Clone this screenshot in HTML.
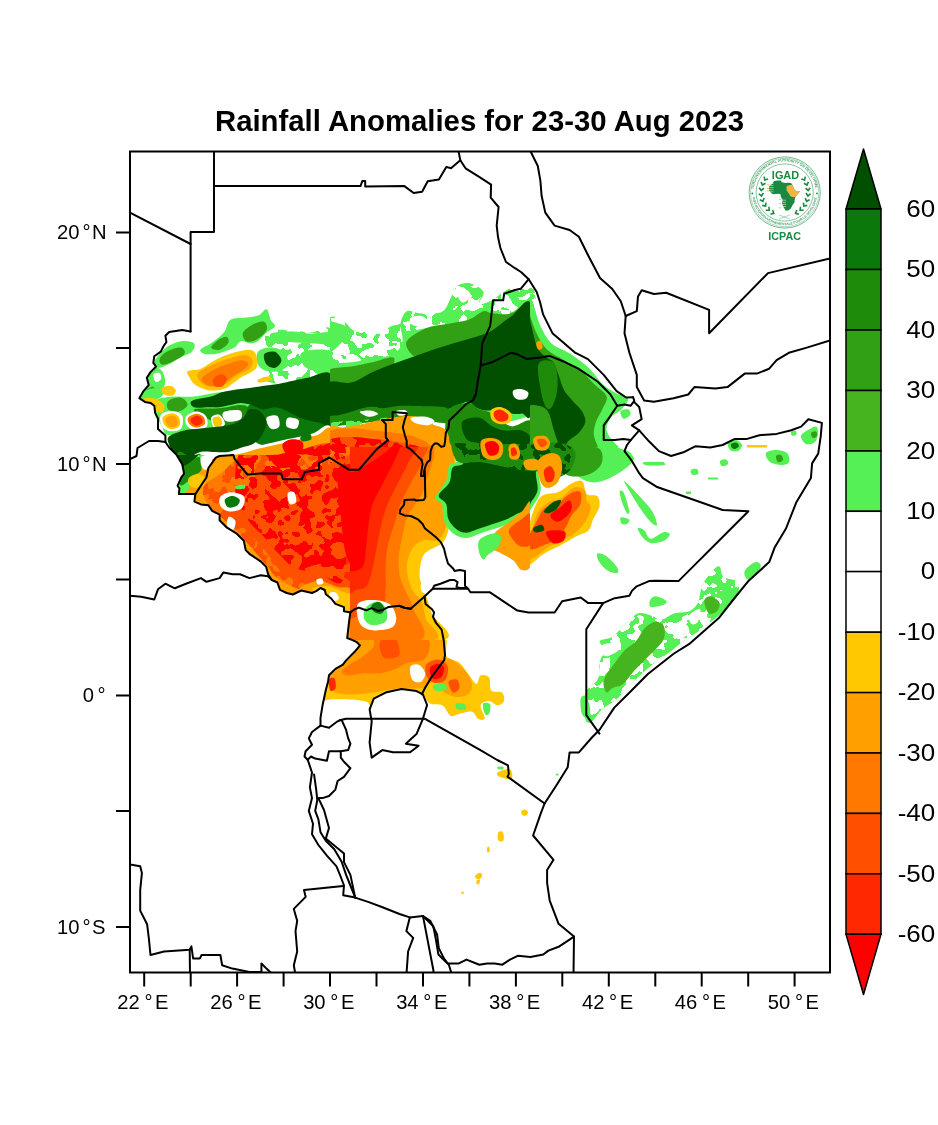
<!DOCTYPE html><html><head><meta charset="utf-8"><style>html,body{margin:0;padding:0;background:#fff;overflow:hidden}svg{display:block}</style></head><body><svg width="938" height="1125" viewBox="0 0 938 1125">
<rect width="938" height="1125" fill="#fff"/>
<text x="479.5" y="131" text-anchor="middle" font-family="Liberation Sans, Arial, sans-serif" font-weight="bold" font-size="29.5" textLength="529" lengthAdjust="spacingAndGlyphs" fill="#000">Rainfall Anomalies for 23-30 Aug 2023</text>
<defs><filter id="mot" filterUnits="userSpaceOnUse" x="130" y="150" width="700" height="825" color-interpolation-filters="sRGB"><feTurbulence type="fractalNoise" baseFrequency="0.09" numOctaves="2" seed="5" result="n"/><feColorMatrix in="n" type="matrix" values="0 0 0 0 0.333  0 0 0 0 0.941  0 0 0 0 0.333  3.2 0 0 0 -1.15" result="c"/><feComponentTransfer in="c" result="t"><feFuncA type="discrete" tableValues="0 1"/></feComponentTransfer><feComposite in="t" in2="SourceAlpha" operator="in"/></filter><filter id="so6" filterUnits="userSpaceOnUse" x="130" y="150" width="700" height="825" color-interpolation-filters="sRGB"><feTurbulence type="fractalNoise" baseFrequency="0.09" numOctaves="2" seed="11" result="n"/><feColorMatrix in="n" type="matrix" values="0 0 0 0 1.000  0 0 0 0 0.000  0 0 0 0 0.000  3.2 0 0 0 -1.15" result="c"/><feComponentTransfer in="c" result="t"><feFuncA type="discrete" tableValues="0 1"/></feComponentTransfer><feComposite in="t" in2="SourceAlpha" operator="in"/></filter><filter id="so4" filterUnits="userSpaceOnUse" x="130" y="150" width="700" height="825" color-interpolation-filters="sRGB"><feTurbulence type="fractalNoise" baseFrequency="0.09" numOctaves="2" seed="13" result="n"/><feColorMatrix in="n" type="matrix" values="0 0 0 0 1.000  0 0 0 0 0.314  0 0 0 0 0.000  3.2 0 0 0 -1.15" result="c"/><feComponentTransfer in="c" result="t"><feFuncA type="discrete" tableValues="0 1"/></feComponentTransfer><feComposite in="t" in2="SourceAlpha" operator="in"/></filter><filter id="sw" filterUnits="userSpaceOnUse" x="130" y="150" width="700" height="825" color-interpolation-filters="sRGB"><feTurbulence type="fractalNoise" baseFrequency="0.09" numOctaves="2" seed="17" result="n"/><feColorMatrix in="n" type="matrix" values="0 0 0 0 1.000  0 0 0 0 1.000  0 0 0 0 1.000  3.2 0 0 0 -1.26" result="c"/><feComponentTransfer in="c" result="t"><feFuncA type="discrete" tableValues="0 1"/></feComponentTransfer><feComposite in="t" in2="SourceAlpha" operator="in"/></filter><filter id="sg6" filterUnits="userSpaceOnUse" x="130" y="150" width="700" height="825" color-interpolation-filters="sRGB"><feTurbulence type="fractalNoise" baseFrequency="0.09" numOctaves="2" seed="19" result="n"/><feColorMatrix in="n" type="matrix" values="0 0 0 0 0.000  0 0 0 0 0.314  0 0 0 0 0.000  3.2 0 0 0 -1.15" result="c"/><feComponentTransfer in="c" result="t"><feFuncA type="discrete" tableValues="0 1"/></feComponentTransfer><feComposite in="t" in2="SourceAlpha" operator="in"/></filter><filter id="sg1" filterUnits="userSpaceOnUse" x="130" y="150" width="700" height="825" color-interpolation-filters="sRGB"><feTurbulence type="fractalNoise" baseFrequency="0.09" numOctaves="2" seed="23" result="n"/><feColorMatrix in="n" type="matrix" values="0 0 0 0 0.333  0 0 0 0 0.941  0 0 0 0 0.333  3.2 0 0 0 -1.15" result="c"/><feComponentTransfer in="c" result="t"><feFuncA type="discrete" tableValues="0 1"/></feComponentTransfer><feComposite in="t" in2="SourceAlpha" operator="in"/></filter><filter id="so1" filterUnits="userSpaceOnUse" x="130" y="150" width="700" height="825" color-interpolation-filters="sRGB"><feTurbulence type="fractalNoise" baseFrequency="0.09" numOctaves="2" seed="29" result="n"/><feColorMatrix in="n" type="matrix" values="0 0 0 0 1.000  0 0 0 0 0.784  0 0 0 0 0.000  3.2 0 0 0 -1.15" result="c"/><feComponentTransfer in="c" result="t"><feFuncA type="discrete" tableValues="0 1"/></feComponentTransfer><feComposite in="t" in2="SourceAlpha" operator="in"/></filter><filter id="so2" filterUnits="userSpaceOnUse" x="130" y="150" width="700" height="825" color-interpolation-filters="sRGB"><feTurbulence type="fractalNoise" baseFrequency="0.09" numOctaves="2" seed="31" result="n"/><feColorMatrix in="n" type="matrix" values="0 0 0 0 1.000  0 0 0 0 0.627  0 0 0 0 0.000  3.2 0 0 0 -1.15" result="c"/><feComponentTransfer in="c" result="t"><feFuncA type="discrete" tableValues="0 1"/></feComponentTransfer><feComposite in="t" in2="SourceAlpha" operator="in"/></filter><clipPath id="mc"><rect x="130" y="151.5" width="700" height="821.0"/></clipPath><clipPath id="dm"><path d="M190.6 331.4 L190.6 232 L214 232 L214 186.1 L360.5 186.1 L362.4 180.9 L365.2 180.9 L365.2 186.4 L404.4 186.1 L413.7 193 L422.1 191.7 L427.7 181.2 L438.9 179.4 L446.3 166.9 L451 168.2 L460.3 160.3 L460.3 160.3 L465.9 168.7 L478 176.2 L491.1 184.6 L490.7 197.6 L498.6 207 L496.7 225.6 L498 237 L500.4 248 L506 262 L515 268.2 L521 272 L528.7 279.2 L536.7 292 L540 302 L543.1 314.4 L552.7 333.6 L563.9 343.1 L575.1 352.7 L587.9 359.1 L603.9 375.1 L616.6 391.1 L626.2 397.5 L633.1 397.2 L634.3 402.1 L639.2 407 L641.7 419.2 L631.9 425.4 L639.2 430.3 L639.2 430.3 L649 441.3 L658.9 451.1 L671.1 456 L683.4 452.3 L695.6 446.2 L710.3 447.4 L722.6 445 L734.9 438.9 L747.1 438.9 L759.4 435.2 L776.6 433.9 L791.3 430.3 L801.1 426.6 L808.4 419.2 L821.9 422.9 L820.7 436.4 L818.2 453.6 L812.1 463.4 L810.9 478.1 L796.2 502.6 L786 528.5 L774.8 547.2 L769.2 562.1 L748.7 580.7 L733 600 L718.8 618.1 L689 644.2 L674 653.5 L647.9 674 L629.3 692.7 L614.3 707.6 L599.4 730 L591.9 737.5 L578.9 752.4 L569.6 752.4 L567.7 767.3 L556 786 L544.6 803.5 L540.7 813.7 L533.1 835.5 L553.5 859.8 L547.1 870 L547.1 882.8 L549.7 900.7 L558.6 923.8 L574 936.6 L574 936.6 L558.6 946.8 L548.4 950.6 L543.3 954.5 L530.5 957 L517.7 955.8 L510 959.6 L502.4 964.7 L494.7 963.4 L487 963.4 L479.3 964.7 L466.5 959.6 L458.9 963.4 L447.3 963.4 L438.4 954.5 L435.8 939.1 L433.3 926.3 L423 916.1 L423 916.1 L409.8 917.4 L399.5 914 L382.5 907.2 L368.8 902.1 L355.2 897.6 L355.2 897.6 L350.4 885.5 L346.1 874.9 L341.8 862.1 L334.3 849.3 L325.8 840.7 L320.5 832.2 L318.4 819.4 L315.2 810.9 L317.3 800.2 L316.2 789.6 L314.1 774.6 L312 772.5 L307.7 759.7 L304.5 756.5 L305.6 751.2 L312 744.8 L308.8 738.4 L312 732 L320.5 725.6 L320.5 717.8 L322.6 705 L325.8 690 L328 681.7 L329 675.3 L335.4 668.9 L342.9 664.6 L346.1 660.4 L354.6 651.8 L360 645.4 L356.8 642.2 L352.5 640.1 L347.2 638 L348.2 629.4 L349.3 619.9 L350.4 612.4 L344 611.3 L344 607.1 L335.4 603.9 L331.2 598.5 L325.8 594.3 L324.8 590 L320.5 588 L316.2 591.1 L312 593 L301.3 590.5 L292.8 594.5 L286.7 593 L280 589.9 L277.4 582.5 L271.8 580 L268.1 574.3 L266.2 566.9 L260.6 561.3 L249.4 553.8 L245.7 550.1 L243.8 540.7 L236.3 533.3 L227 527.7 L219.6 520.2 L219.6 514.6 L212.1 510.9 L208.4 505.3 L200.9 504.4 L194.4 501.6 L195.3 494.1 L178.9 494.1 L179.4 488.5 L177.6 485.7 L181.3 477.3 L184.1 473.6 L182.2 464.3 L176.6 454.9 L169.2 447.5 L165.4 442 L165.4 435.5 L158 429 L158 418.7 L155.2 413.1 L154.3 405.7 L150.5 402.9 L144.9 401.9 L139.3 398.2 L143.1 391.7 L148.7 385.1 L146.8 377.7 L150.5 372.1 L156.1 366.5 L153.3 362.8 L154.3 356.2 L160.8 351.6 L163.6 346 L166.4 342.2 L165.4 335.7 L169.2 332 L182.2 330.1 L190.6 331.4 Z"/></clipPath></defs>
<g clip-path="url(#mc)">
<g clip-path="url(#dm)">
<clipPath id="tA"><path d="M125 240 L330 240 L330 455 L125 455 Z"/></clipPath>
<clipPath id="tB"><path d="M330 240 L540 240 L540 447 L330 447 Z"/></clipPath>
<clipPath id="tC"><path d="M125 455 L330 455 L330 447 L350 447 L350 640 L125 640 Z"/></clipPath>
<clipPath id="tD"><path d="M350 447 L530 447 L530 640 L350 640 Z"/></clipPath>
<clipPath id="tE"><path d="M530 240 L835 240 L835 447 L530 447 Z"/></clipPath>
<clipPath id="tF"><path d="M530 447 L835 447 L835 470 L748.4 511.2 L678.5 581.1 L649 581 L629 596 L603 603 L580 600 L580 665 L535 665 L535 640 L530 640 Z"/></clipPath>
<clipPath id="tH"><path d="M580 600 L603 603 L629 596 L649 581 L678.5 581.1 L748.4 511.2 L835 470 L835 830 L535 830 L535 665 L580 665 Z"/></clipPath>
<clipPath id="tG"><path d="M300 640 L530 640 L530 665 L535 665 L535 835 L300 835 Z"/></clipPath>
<clipPath id="tT"><path d="M440 760 L600 760 L600 975 L440 975 Z"/></clipPath>
<clipPath id="tS"><path d="M630 415 L835 415 L835 500 L630 500 Z"/></clipPath>
<g clip-path="url(#tA)">
<path d="M266.5 332.6 C270.7 327.7 284.6 330.5 292 330.5 C299.5 330.5 304.7 332.6 311.2 332.6 C317.8 332.6 328.1 322.3 331.5 330.5 C334.9 338.7 336.6 373.2 331.5 381.7 C326.3 390.2 309.3 381.3 300.6 381.7 C291.9 382 285.7 384.2 279.3 383.8 C272.9 383.5 265.7 381.7 262.2 379.6 C258.6 377.4 257.2 374.2 257.9 371 C258.6 367.8 265 366.8 266.5 360.4 C267.9 354 262.2 337.6 266.5 332.6 Z" fill="#000" filter="url(#mot)"/>
<path d="M270.7 333.7 C273.6 332.1 285.3 331.6 292 331.6 C298.8 331.6 304.7 333.5 311.2 333.7 C317.8 333.9 328.1 331 331.5 332.6 C334.9 334.2 334.9 341.5 331.5 343.3 C328.1 345.1 317.8 343.5 311.2 343.3 C304.7 343.1 298.1 342.6 292 342.2 C286 341.9 278.5 342.6 275 341.2 C271.4 339.8 267.9 335.3 270.7 333.7 Z" fill="#55f055"/>
<path d="M257.9 351.8 C260.1 349 266.5 347.6 270.7 347.6 C275 347.6 280.7 349 283.5 351.8 C286.4 354.7 288.5 361.4 287.8 364.6 C287.1 367.8 282.8 370 279.3 371 C275.7 372.1 270 372.1 266.5 371 C262.9 370 259.4 367.8 257.9 364.6 C256.5 361.4 255.8 354.7 257.9 351.8 Z" fill="#55f055"/>
<path d="M300.6 354 C302 351.1 308.2 350.1 313.4 349.7 C318.5 349.3 328.5 349 331.5 351.8 C334.5 354.7 333.8 363.6 331.5 366.8 C329.2 370 322.1 371 317.6 371 C313.2 371 307.7 369.6 304.8 366.8 C302 363.9 299.2 356.8 300.6 354 Z" fill="#55f055"/>
<path d="M264.3 354 C265.7 351.8 272.1 350.8 275 351.8 C277.8 352.9 281.4 357.7 281.4 360.4 C281.4 363 277.5 367.1 275 367.8 C272.5 368.5 268.2 366.9 266.5 364.6 C264.7 362.3 262.9 356.1 264.3 354 Z" fill="#005000"/>
<path d="M200.4 349.7 C201.4 347.9 207.1 346.1 211 343.3 C214.9 340.5 220.6 336.6 223.8 332.6 C227 328.7 227 322.3 230.2 319.9 C233.4 317.4 238.4 318.4 243 317.7 C247.6 317 254 317 257.9 315.6 C261.8 314.2 264.3 308.5 266.5 309.2 C268.6 309.9 269.3 317 270.7 319.9 C272.1 322.7 275.7 324.1 275 326.2 C274.3 328.4 269.3 330.2 266.5 332.6 C263.6 335.1 260.8 339.4 257.9 341.2 C255.1 342.9 252.2 343.3 249.4 343.3 C246.6 343.3 243.4 340.5 240.9 341.2 C238.4 341.9 237.3 345.8 234.5 347.6 C231.6 349.3 227 350.8 223.8 351.8 C220.6 352.9 218.5 353.6 215.3 354 C212.1 354.3 207.1 354.7 204.6 354 C202.1 353.3 199.3 351.5 200.4 349.7 Z" fill="#55f055"/>
<path d="M211 347.6 C211 345.8 216.9 340.8 219.6 339 C222.2 337.3 225.6 336.2 227 336.9 C228.4 337.6 229.3 341.2 228.1 343.3 C226.8 345.4 222.4 349 219.6 349.7 C216.7 350.4 211 349.3 211 347.6 Z" fill="#32a014"/>
<path d="M243 332.6 C244.3 329.8 250.1 325.9 253.7 324.1 C257.2 322.3 262.2 320.9 264.3 322 C266.5 323 267.9 327.5 266.5 330.5 C265 333.5 259.2 338.3 255.8 340.1 C252.4 341.9 248.3 342.4 246.2 341.2 C244.1 339.9 241.8 335.5 243 332.6 Z" fill="#32a014"/>
<path d="M154.5 361.4 C155.9 358.1 161.8 350.9 166.2 347.6 C170.7 344.2 176.6 341.9 181.2 341.2 C185.8 340.5 192.2 341.5 194 343.3 C195.7 345.1 194.3 349.3 191.8 351.8 C189.3 354.3 182.9 356.1 179 358.2 C175.1 360.4 171.9 363 168.4 364.6 C164.8 366.2 160 368.4 157.7 367.8 C155.4 367.3 153.1 364.8 154.5 361.4 Z" fill="#55f055"/>
<path d="M159.9 358.2 C160.9 355.9 164.8 352.5 168.4 350.8 C171.9 349 178.5 347 181.2 347.6 C183.8 348.1 185.8 351.7 184.4 354 C182.9 356.3 176.4 359.7 172.6 361.4 C168.9 363.2 164.1 365.2 162 364.6 C159.9 364.1 158.8 360.5 159.9 358.2 Z" fill="#32a014"/>
<path d="M142.8 371 C144.9 368.2 150.3 366.8 153.5 366.8 C156.7 366.8 160 368.5 162 371 C163.9 373.5 165.2 378.5 165.2 381.7 C165.2 384.9 163.6 387.7 162 390.2 C160.4 392.7 159.1 395.2 155.6 396.6 C152 398 143.1 400.9 140.7 398.7 C138.2 396.6 140.3 388.4 140.7 383.8 C141 379.2 140.7 373.9 142.8 371 Z" fill="#55f055"/>
<path d="M153.5 374.2 C154.2 372.8 158.6 372.3 159.9 373.2 C161.1 374 161.6 378.1 160.9 379.6 C160.2 381 156.8 382.6 155.6 381.7 C154.3 380.8 152.7 375.6 153.5 374.2 Z" fill="#ffffff"/>
<path d="M147.1 390.2 C147.8 388.6 152 386.3 153.5 387 C154.9 387.7 156.3 392.9 155.6 394.5 C154.9 396.1 150.6 397.3 149.2 396.6 C147.8 395.9 146.3 391.8 147.1 390.2 Z" fill="#32a014"/>
<path d="M147.1 390.2 C149.2 388.4 154.9 387.7 157.7 388.1 C160.6 388.4 164.1 390.6 164.1 392.3 C164.1 394.1 160.9 397.7 157.7 398.7 C154.5 399.8 146.7 400.2 144.9 398.7 C143.1 397.3 144.9 392 147.1 390.2 Z" fill="#55f055"/>
<path d="M155.6 400.9 C158.4 398 166.2 397.3 172.6 396.6 C179 395.9 186.1 397.3 194 396.6 C201.8 395.9 210.3 393.4 219.6 392.3 C228.8 391.3 243 389.5 249.4 390.2 C255.8 390.9 256.5 393.4 257.9 396.6 C259.4 399.8 259.4 404.4 257.9 409.4 C256.5 414.4 255.8 423.3 249.4 426.5 C243 429.7 228.8 427.9 219.6 428.6 C210.3 429.3 202.5 429.7 194 430.7 C185.4 431.8 173.7 435.7 168.4 435 C163 434.3 164.1 430 162 426.5 C159.9 422.9 156.7 417.9 155.6 413.7 C154.5 409.4 152.7 403.7 155.6 400.9 Z" fill="#55f055"/>
<path d="M194 409.4 C196.1 407.8 211.7 409 219.6 408.3 C227.4 407.6 235.9 405 240.9 405.1 C245.8 405.3 248.7 406.6 249.4 409.4 C250.1 412.2 249.4 419.4 245.1 422.2 C240.9 425 230.2 427.2 223.8 426.5 C217.4 425.7 211.7 420.8 206.8 417.9 C201.8 415.1 191.8 411 194 409.4 Z" fill="#1e8c0a"/>
<path d="M168.4 400.9 C170.5 398.9 178 397 181.2 397.7 C184.4 398.4 187.9 402.8 187.6 405.1 C187.2 407.4 182.2 410.8 179 411.5 C175.8 412.2 170.2 411.2 168.4 409.4 C166.6 407.6 166.2 402.8 168.4 400.9 Z" fill="#32a014"/>
<path d="M223.8 412 C226.5 410.5 237 409.3 239.8 410.5 C242.7 411.6 242.7 417.1 240.9 419 C239.1 420.9 232 421.8 229.1 421.8 C226.3 421.8 224.7 420.6 223.8 419 C222.9 417.4 221.2 413.4 223.8 412 Z" fill="#ffffff"/>
<path d="M160.9 414.7 C162.7 412.2 169.1 410.9 172.6 411.1 C176.2 411.3 180.8 412.9 182.2 415.8 C183.7 418.7 183.1 426 181.2 428.6 C179.2 431.2 173.7 431.5 170.5 431.2 C167.3 430.8 163.6 429.2 162 426.5 C160.4 423.7 159.1 417.3 160.9 414.7 Z" fill="#ffffff"/>
<path d="M185.9 416.9 C187.3 414.4 192.8 411.7 196.1 411.5 C199.4 411.4 203.9 413.3 205.7 415.8 C207.5 418.3 208.4 424.2 206.8 426.5 C205.2 428.8 199.3 429.7 196.1 429.7 C192.9 429.7 189.3 428.6 187.6 426.5 C185.9 424.3 184.4 419.4 185.9 416.9 Z" fill="#ffffff"/>
<path d="M211 417.9 C211.7 415.6 217.2 413.7 219.6 414.7 C221.9 415.8 225.6 422 224.9 424.3 C224.2 426.6 217.6 429.7 215.3 428.6 C213 427.5 210.3 420.2 211 417.9 Z" fill="#ffffff"/>
<path d="M163 416.9 C164.5 415 169.9 413.1 172.6 413.2 C175.4 413.4 178.4 415.7 179.5 417.9 C180.5 420.1 180.5 424.6 179 426.5 C177.5 428.3 173 429.4 170.5 429 C168 428.7 165.4 426.4 164.1 424.3 C162.9 422.3 161.6 418.7 163 416.9 Z" fill="#ffc800"/>
<path d="M166.2 417.9 C167.3 416.7 170.8 415.6 172.6 415.8 C174.5 416 176.6 417.4 177.3 419 C178 420.6 178 424.1 176.9 425.4 C175.8 426.7 172.3 427.2 170.5 426.9 C168.7 426.5 167 424.8 166.2 423.3 C165.5 421.8 165.2 419.2 166.2 417.9 Z" fill="#ffa000"/>
<path d="M188 417.9 C189.1 416.2 193.5 413.8 196.1 413.7 C198.7 413.5 202.1 415.1 203.6 416.9 C205 418.6 205.9 422.6 204.6 424.3 C203.4 426.1 198.6 427.5 196.1 427.5 C193.6 427.5 191.1 425.9 189.7 424.3 C188.4 422.7 186.9 419.7 188 417.9 Z" fill="#ff7800"/>
<path d="M190.8 419 C191.5 417.8 194.7 416 196.5 415.8 C198.3 415.6 200.5 416.7 201.4 417.9 C202.4 419.2 203 422 202.1 423.3 C201.2 424.5 197.8 425.4 196.1 425.4 C194.4 425.4 192.7 424.3 191.8 423.3 C190.9 422.2 190 420.2 190.8 419 Z" fill="#ff2800"/>
<path d="M212.7 418.4 C213.4 416.7 218 415.9 219.6 416.9 C221.1 417.9 222.8 422.7 222.1 424.3 C221.4 426 216.9 427.9 215.3 426.9 C213.7 425.9 212 420 212.7 418.4 Z" fill="#ffc800"/>
<path d="M249.4 405.1 C254.4 400.9 270.7 403.7 279.3 405.1 C287.8 406.6 291.9 411.5 300.6 413.7 C309.3 415.8 326.3 412.6 331.5 417.9 C336.6 423.3 336.6 441.4 331.5 445.7 C326.3 449.9 309.3 443.5 300.6 443.5 C291.9 443.5 286.4 445.7 279.3 445.7 C272.1 445.7 262.9 446 257.9 443.5 C253 441 250.8 437.1 249.4 430.7 C248 424.3 244.4 409.4 249.4 405.1 Z" fill="#0a780a"/>
<path d="M266.5 417.9 C267.5 415.8 275 414.4 277.1 415.8 C279.3 417.2 280.3 424.3 279.3 426.5 C278.2 428.6 272.9 430 270.7 428.6 C268.6 427.2 265.4 420.1 266.5 417.9 Z" fill="#ffffff"/>
<path d="M287.8 417.9 C289.7 416.9 297 418.3 298.4 420.1 C299.9 421.8 298.3 427.5 296.3 428.6 C294.4 429.7 288.1 428.2 286.7 426.5 C285.3 424.7 285.8 419 287.8 417.9 Z" fill="#ffffff"/>
<path d="M191.8 400.9 C194.7 399.1 206 398 211 396.6 C216 395.2 218.1 393.4 221.7 392.3 C225.2 391.3 227.7 390.9 232.3 390.2 C237 389.5 244.4 388.8 249.4 388.1 C254.4 387.4 257.2 386.7 262.2 385.9 C267.2 385.2 273.2 384.9 279.3 383.8 C285.3 382.8 293.5 380.6 298.4 379.6 C303.4 378.5 303.6 378.1 309.1 377.4 C314.6 376.7 327.8 367.8 331.5 375.3 C335.2 382.8 333.8 414.4 331.5 422.2 C329.2 430 322.8 422.9 317.6 422.2 C312.5 421.5 304.8 419.4 300.6 417.9 C296.3 416.5 294.9 415.1 292 413.7 C289.2 412.2 286.4 410.5 283.5 409.4 C280.7 408.3 278.5 407.3 275 407.3 C271.4 407.3 266.1 409.8 262.2 409.4 C258.3 409 255.1 406.2 251.5 405.1 C248 404.1 244.4 403 240.9 403 C237.3 403 233.8 404.4 230.2 405.1 C226.7 405.8 223.1 406.9 219.6 407.3 C216 407.6 213.2 407.3 208.9 407.3 C204.6 407.3 196.8 408.3 194 407.3 C191.1 406.2 189 402.7 191.8 400.9 Z" fill="#005000"/>
<path d="M168.4 437.1 C170.5 434.3 178 432.1 183.3 430.7 C188.6 429.3 194.3 429.3 200.4 428.6 C206.4 427.9 214.2 427.2 219.6 426.5 C224.9 425.7 228.4 425.7 232.3 424.3 C236.3 422.9 240.2 420.4 243 417.9 C245.8 415.4 246.6 410.5 249.4 409.4 C252.2 408.3 257.2 409.4 260.1 411.5 C262.9 413.7 266.1 418.3 266.5 422.2 C266.8 426.1 264.3 431.4 262.2 435 C260.1 438.5 257.2 441.4 253.7 443.5 C250.1 445.7 245.1 446.4 240.9 447.8 C236.6 449.2 232.3 451.3 228.1 452 C223.8 452.8 219.9 452 215.3 452 C210.7 452 204.6 451 200.4 452 C196.1 453.1 192.5 456 189.7 458.4 C186.9 460.9 185.4 467 183.3 467 C181.2 467 179 461.6 176.9 458.4 C174.8 455.2 171.9 451.3 170.5 447.8 C169.1 444.2 166.2 440 168.4 437.1 Z" fill="#005000"/>
<path d="M179 452 C181.9 450.6 186.1 456 189.7 456.3 C193.3 456.7 198.6 452.4 200.4 454.2 C202.1 456 202.1 463.8 200.4 467 C198.6 470.2 192.5 469.3 189.7 473.4 C186.9 477.5 186.1 488.5 183.3 491.5 C180.5 494.5 174.4 495.9 172.6 491.5 C170.9 487.1 171.6 471.4 172.6 464.8 C173.7 458.3 176.2 453.5 179 452 Z" fill="#1e8c0a"/>
<path d="M187.6 371 C189.3 369.6 196.5 370.3 200.4 368.9 C204.3 367.5 207.1 364.6 211 362.5 C214.9 360.4 219.6 357.9 223.8 356.1 C228.1 354.3 232.3 352.9 236.6 351.8 C240.9 350.8 246.2 349.3 249.4 349.7 C252.6 350.1 254.6 351.1 255.8 354 C257 356.8 257.9 363.6 256.9 366.8 C255.8 370 252.1 371.4 249.4 373.2 C246.7 374.9 243.7 375.6 240.9 377.4 C238 379.2 235.2 381.9 232.3 383.8 C229.5 385.8 227.4 388 223.8 389.1 C220.3 390.3 214.6 390.7 211 390.6 C207.5 390.5 205.3 389.6 202.5 388.5 C199.7 387.4 196.1 385.7 194 383.8 C191.8 382 190.8 379.6 189.7 377.4 C188.6 375.3 185.8 372.4 187.6 371 Z" fill="#ffc800"/>
<path d="M198.2 373.2 C200.4 370.3 207.8 367.1 213.2 364.6 C218.5 362.1 224.9 359.8 230.2 358.2 C235.5 356.6 241.4 354.7 245.1 355 C248.9 355.4 251.9 358.1 252.6 360.4 C253.3 362.7 252.1 366.4 249.4 368.9 C246.7 371.4 240.5 372.8 236.6 375.3 C232.7 377.8 230.2 381.9 225.9 383.8 C221.7 385.8 215.3 387.4 211 387 C206.8 386.7 202.5 384 200.4 381.7 C198.2 379.4 196.1 376 198.2 373.2 Z" fill="#ffa000"/>
<path d="M202.5 377.4 C204.4 375.1 210.3 371.4 215.3 368.9 C220.3 366.4 227.7 363.9 232.3 362.5 C237 361.1 240.3 360 243 360.4 C245.7 360.7 248.3 363 248.3 364.6 C248.3 366.2 245.7 368 243 370 C240.3 371.9 235.9 374 232.3 376.4 C228.8 378.7 225.2 382.2 221.7 383.8 C218.1 385.4 214 386.1 211 385.9 C208 385.8 205 384.2 203.6 382.8 C202.1 381.3 200.5 379.7 202.5 377.4 Z" fill="#ff7800"/>
<path d="M213.2 379.6 C214 377.5 218.3 374.4 220.6 374.2 C222.9 374 226.7 376.5 227 378.5 C227.4 380.4 224.7 384.6 222.8 385.9 C220.8 387.3 216.9 387.4 215.3 386.4 C213.7 385.3 212.3 381.6 213.2 379.6 Z" fill="#ff5000"/>
<path d="M162 388.1 C163 386.7 168.2 385.6 170.5 385.9 C172.8 386.3 175.5 388.6 175.8 390.2 C176.2 391.8 174.6 394.8 172.6 395.5 C170.7 396.3 165.9 395.7 164.1 394.5 C162.3 393.2 160.9 389.5 162 388.1 Z" fill="#ffc800"/>
<path d="M142.8 398.7 C144.6 398 152 397.7 155.6 398.7 C159.1 399.8 163 402.8 164.1 405.1 C165.2 407.4 163.8 411.9 162 412.6 C160.2 413.3 156.3 411 153.5 409.4 C150.6 407.8 146.7 404.8 144.9 403 C143.1 401.2 141 399.5 142.8 398.7 Z" fill="#ffc800"/>
<path d="M257.9 379.6 C259.4 378.5 266.3 376.4 268.6 376.4 C270.9 376.4 273.2 378.5 271.8 379.6 C270.4 380.6 262.4 382.8 260.1 382.8 C257.8 382.8 256.5 380.6 257.9 379.6 Z" fill="#ffc800"/>
<path d="M191.8 491.5 C169.4 487.9 193.4 475.7 197.2 470.2 C200.9 464.7 208.7 461.1 214.2 458.4 C219.7 455.8 225.2 455.5 230.2 454.2 C235.2 452.8 239.5 451.7 244.1 450.3 C248.7 449 252.4 447.6 257.9 446.1 C263.4 444.6 270.4 442.9 277.1 441.4 C283.9 439.9 292.4 438.5 298.4 437.1 C304.5 435.8 307.9 434.6 313.4 433.3 C318.9 431.9 328.5 419.3 331.5 429 C334.5 438.7 354.8 481.1 331.5 491.5 C308.2 501.9 214.2 495 191.8 491.5 Z" fill="#ffffff"/>
<path d="M187.6 491.5 C164.6 488.5 190.1 478.5 194 473.4 C197.9 468.2 205.3 463.4 211 460.6 C216.7 457.7 222.8 457.6 228.1 456.3 C233.4 455.1 238 454.4 243 453.1 C248 451.9 251.9 450.4 257.9 448.8 C264 447.3 272.1 445.5 279.3 443.9 C286.4 442.3 294.2 440.7 300.6 439.3 C307 437.8 312.5 436.3 317.6 435 C322.8 433.6 329.2 421.7 331.5 431.2 C333.8 440.6 355.5 481.4 331.5 491.5 C307.5 501.5 210.5 494.5 187.6 491.5 Z" fill="#ffa000"/>
<path d="M206.8 491.5 C187.4 488.5 211.7 477.5 215.3 473.4 C218.8 469.3 223.1 469.1 228.1 467 C233.1 464.8 239.5 462.4 245.1 460.6 C250.8 458.8 256.5 457.4 262.2 456.3 C267.9 455.2 272.9 455.2 279.3 454.2 C285.7 453.1 291.9 451.3 300.6 449.9 C309.3 448.5 326.3 438.7 331.5 445.7 C336.6 452.6 352.3 483.9 331.5 491.5 C310.7 499.1 226.1 494.5 206.8 491.5 Z" fill="#ff5000"/>
<path d="M206.8 491.5 C187.4 488.5 211.7 477.5 215.3 473.4 C218.8 469.3 223.1 469.1 228.1 467 C233.1 464.8 239.5 462.4 245.1 460.6 C250.8 458.8 256.5 457.4 262.2 456.3 C267.9 455.2 272.9 455.2 279.3 454.2 C285.7 453.1 291.9 451.3 300.6 449.9 C309.3 448.5 326.3 438.7 331.5 445.7 C336.6 452.6 352.3 483.9 331.5 491.5 C310.7 499.1 226.1 494.5 206.8 491.5 Z" fill="#000" filter="url(#so6)"/>
<path d="M282.5 444.6 C283.2 441.9 288.7 439.6 292 439.3 C295.4 438.9 301.3 440.1 302.7 442.5 C304.1 444.8 303.1 451 300.6 453.1 C298.1 455.2 290.8 456.7 287.8 455.2 C284.8 453.8 281.7 447.2 282.5 444.6 Z" fill="#ff0000"/>
<path d="M311.2 454.2 C311.9 449 318.5 448.1 321.9 446.7 C325.3 445.3 329.9 439.8 331.5 445.7 C333.1 451.5 333.8 476.6 331.5 481.9 C329.2 487.2 321 482.3 317.6 477.6 C314.3 473 310.5 459.3 311.2 454.2 Z" fill="#ff0000"/>
<path d="M257.9 473.4 C259 470.5 270.7 464.1 275 464.8 C279.3 465.6 284.6 474.8 283.5 477.6 C282.5 480.5 272.9 482.6 268.6 481.9 C264.3 481.2 256.9 476.2 257.9 473.4 Z" fill="#ff0000"/>
<path d="M300.6 437.1 C301.6 435.7 307.3 432.5 309.1 432.9 C310.9 433.2 312.3 437.8 311.2 439.3 C310.2 440.7 304.5 441.7 302.7 441.4 C300.9 441 299.5 438.5 300.6 437.1 Z" fill="#0a780a"/>
</g>
<g clip-path="url(#tB)">
<path d="M327.9 321.8 C330.4 311.4 338.5 319.3 342.8 320.8 C347.1 322.2 349.5 328.9 353.5 330.4 C357.4 331.8 362 328.8 366.2 329.3 C370.5 329.8 374.8 334.1 379 333.6 C383.3 333 387.6 327.7 391.8 326.1 C396.1 324.5 401.4 323.3 404.6 324 C407.8 324.7 411 326.1 411 330.4 C411 334.6 405.3 344.6 404.6 349.6 C403.9 354.5 408.5 355.9 406.8 360.2 C405 364.5 401.4 371.9 394 375.1 C386.5 378.3 373 378 362 379.4 C351 380.8 333.6 393.3 327.9 383.7 C322.2 374.1 325.4 332.3 327.9 321.8 Z" fill="#000" filter="url(#mot)"/>
<path d="M327.9 324 C330 319.3 337.1 322.9 340.7 324 C344.2 325 348.8 327.5 349.2 330.4 C349.5 333.2 345.3 337.8 342.8 341 C340.3 344.2 336.8 347.8 334.3 349.6 C331.8 351.3 328.9 355.9 327.9 351.7 C326.8 347.4 325.7 328.6 327.9 324 Z" fill="#55f055"/>
<path d="M477.1 306.9 C479.3 304.4 488.1 302.6 492 300.5 C496 298.4 497.4 296.2 500.6 294.1 C503.8 292 507.7 289.5 511.2 287.7 C514.8 285.9 518.5 284.9 521.9 283.5 C525.3 282 529.9 273.9 531.5 279.2 C533.1 284.5 540.2 309.4 531.5 315.4 C522.8 321.5 488.3 316.9 479.3 315.4 C470.2 314 475 309.4 477.1 306.9 Z" fill="#000" filter="url(#mot)"/>
<path d="M400.4 324 C401.1 319 403.6 312.9 406.8 311.2 C410 309.4 414.6 312.9 419.6 313.3 C424.5 313.7 432.3 314 436.6 313.3 C440.9 312.6 442.7 311.9 445.1 309 C447.6 306.2 449.4 300.2 451.5 296.2 C453.7 292.3 454.7 287.7 457.9 285.6 C461.1 283.5 466.5 282.4 470.7 283.5 C475 284.5 482.1 288.4 483.5 292 C484.9 295.5 477.8 301.8 479.3 304.8 C480.7 307.8 486.7 308.9 492 310.1 C497.4 311.4 504.7 312.6 511.2 312.2 C517.8 311.9 528.1 291.1 531.5 308 C534.9 324.9 553.3 395.9 531.5 413.5 C509.6 431.1 424 420.6 400.4 413.5 C376.7 406.4 394.3 378.7 389.7 370.9 C385.1 363.1 378.3 365.2 372.6 366.6 C367 368 363 376.6 355.6 379.4 C348.1 382.2 332.5 386 327.9 383.7 C323.2 381.4 324 369.1 327.9 365.5 C331.8 362 343.9 363.5 351.3 362.3 C358.8 361.2 365.5 359.9 372.6 358.5 C379.8 357.1 389 356.7 394 353.8 C398.9 350.9 401.4 346 402.5 341 C403.6 336 399.7 328.9 400.4 324 Z" fill="#55f055"/>
<path d="M400.4 309 C403.6 306.2 413.5 310.8 419.6 311.2 C425.6 311.5 432.3 311.9 436.6 311.2 C440.9 310.5 442.7 309.8 445.1 306.9 C447.6 304.1 449.4 298 451.5 294.1 C453.7 290.2 454.7 285.6 457.9 283.5 C461.1 281.3 466.5 280.3 470.7 281.3 C475 282.4 482.1 286.3 483.5 289.9 C484.9 293.4 477.8 299.6 479.3 302.6 C480.7 305.7 486.7 306.7 492 308 C497.4 309.2 504.7 310.5 511.2 310.1 C517.8 309.8 528.1 305.3 531.5 305.8 C534.9 306.4 534.9 311.5 531.5 313.3 C528.1 315.1 519.9 315.4 511.2 316.5 C502.5 317.6 489.6 318.5 479.3 319.7 C468.9 320.9 458.3 322.5 449.4 324 C440.5 325.4 432.3 327.2 425.9 328.2 C419.6 329.3 415.3 330.4 411 330.4 C406.8 330.4 402.1 331.8 400.4 328.2 C398.6 324.7 397.2 311.9 400.4 309 Z" fill="#000" filter="url(#sw)"/>
<path d="M411 317.6 C412.8 316.2 418.8 315.2 421.7 315.9 C424.5 316.6 428.4 320.1 428.1 321.8 C427.7 323.5 422.4 325.7 419.6 326.1 C416.7 326.5 412.4 325.4 411 324 C409.6 322.5 409.2 318.9 411 317.6 Z" fill="#ffffff"/>
<path d="M457.9 294.1 C458.6 292 464.3 289.5 466.5 289.9 C468.6 290.2 471.4 294.1 470.7 296.2 C470 298.4 464.3 303 462.2 302.6 C460.1 302.3 457.2 296.2 457.9 294.1 Z" fill="#ffffff"/>
<path d="M406.8 341 C409.2 336.8 419.2 331.1 425.9 328.2 C432.7 325.4 440.2 325.4 447.3 324 C454.4 322.5 462.6 321.8 468.6 319.7 C474.6 317.6 479.6 312.2 483.5 311.2 C487.4 310.1 487.4 312.9 492 313.3 C496.7 313.7 504.7 315.4 511.2 313.3 C517.8 311.2 528.1 298 531.5 300.5 C534.9 303 536.6 322.9 531.5 328.2 C526.3 333.6 509.3 330.7 500.6 332.5 C491.9 334.3 486.4 337.1 479.3 338.9 C472.1 340.7 465 341.4 457.9 343.2 C450.8 344.9 443 347.4 436.6 349.6 C430.2 351.7 423.8 355.2 419.6 355.9 C415.3 356.7 413.2 356.3 411 353.8 C408.9 351.3 404.3 345.3 406.8 341 Z" fill="#32a014"/>
<path d="M327.9 370.9 C331.8 366.6 343.9 368 351.3 366.6 C358.8 365.2 365.5 363.8 372.6 362.3 C379.8 360.9 391.8 355.2 394 358.1 C396.1 360.9 390.8 374.4 385.4 379.4 C380.1 384.4 371.6 385.8 362 387.9 C352.4 390.1 333.6 395 327.9 392.2 C322.2 389.4 324 375.1 327.9 370.9 Z" fill="#32a014"/>
<path d="M327.9 383.7 C331.8 377.6 343.9 384.6 351.3 382.6 C358.8 380.6 365.5 375.1 372.6 371.9 C379.8 368.7 386.9 366.1 394 363.4 C401.1 360.7 408.2 358.4 415.3 355.9 C422.4 353.5 429.5 350.8 436.6 348.5 C443.7 346.2 450.8 344.2 457.9 342.1 C465 340 473.6 337.6 479.3 335.7 C484.9 333.7 486.7 333.6 492 330.4 C497.4 327.2 504.7 320.4 511.2 316.5 C517.8 312.6 528.1 291.4 531.5 306.9 C534.9 322.4 533.1 391.5 531.5 409.3 C529.9 427 525.3 412.8 521.9 413.5 C518.5 414.2 514.8 414.2 511.2 413.5 C507.7 412.8 503.8 409.8 500.6 409.3 C497.4 408.7 494.9 410.1 492 410.3 C489.2 410.5 486.4 410.9 483.5 410.3 C480.7 409.8 477.5 408.5 475 407.1 C472.5 405.7 471.4 402.1 468.6 401.8 C465.7 401.4 461.5 403.7 457.9 405 C454.4 406.2 450.8 408.5 447.3 409.3 C443.7 410 440.5 409.6 436.6 409.3 C432.7 408.9 428.1 407.5 423.8 407.1 C419.6 406.8 415.3 407.1 411 407.1 C406.8 407.1 402.9 406.8 398.2 407.1 C393.6 407.5 387.6 409.3 383.3 409.3 C379 409.3 376.2 407.1 372.6 407.1 C369.1 407.1 365.5 408.2 362 409.3 C358.4 410.3 355.2 412.3 351.3 413.5 C347.4 414.8 342.4 415.8 338.5 416.7 C334.6 417.6 329.6 424.4 327.9 418.8 C326.1 413.3 324 389.7 327.9 383.7 Z" fill="#005000"/>
<path d="M449.4 409.3 C453.3 403.9 463.6 402.9 468.6 402.9 C473.6 402.9 475.3 407.5 479.3 409.3 C483.2 411 486.7 410.7 492 413.5 C497.4 416.4 504.7 424.9 511.2 426.3 C517.8 427.7 528.1 416.2 531.5 422 C534.9 427.9 545.2 454.9 531.5 461.5 C517.8 468.1 463.8 465.9 449.4 461.5 C435 457.1 445.1 443.5 445.1 434.8 C445.1 426.1 445.5 414.6 449.4 409.3 Z" fill="#1e8c0a"/>
<path d="M462.2 422 C464.3 418.5 474.3 417.1 479.3 417.8 C484.2 418.5 487.8 424.2 492 426.3 C496.3 428.4 499.9 429.9 504.8 430.6 C509.8 431.3 517.5 429.2 521.9 430.6 C526.3 432 531.5 436.3 531.5 439.1 C531.5 441.9 527.1 446.2 521.9 447.6 C516.7 449.1 507.7 448.3 500.6 447.6 C493.5 446.9 484.9 444.8 479.3 443.4 C473.6 441.9 469.3 442.7 466.5 439.1 C463.6 435.6 460.1 425.6 462.2 422 Z" fill="#005000"/>
<path d="M513.4 390.5 C514.7 389.3 519.4 388.9 521.9 389.2 C524.4 389.6 527.6 391.1 528.3 392.6 C529 394.2 527.8 397.4 526.2 398.6 C524.6 399.8 520.8 400 518.7 399.7 C516.6 399.3 514.7 398 513.8 396.5 C512.9 394.9 512 391.7 513.4 390.5 Z" fill="#ffffff"/>
<path d="M491 410.3 C492.4 408.2 497.2 406.6 500.6 407.1 C504 407.7 509.6 411 511.2 413.5 C512.8 416 511.9 420.3 510.2 422 C508.4 423.8 503.6 424.5 500.6 424.2 C497.6 423.8 493.6 422.2 492 419.9 C490.4 417.6 489.6 412.5 491 410.3 Z" fill="#ffc800"/>
<path d="M494.2 411.8 C495.2 410.5 498.3 409.2 500.6 409.7 C502.9 410.1 507 412.8 508 414.6 C509.1 416.4 508.4 419.2 507 420.3 C505.6 421.5 501.6 422 499.5 421.6 C497.4 421.2 495.5 419.4 494.6 417.8 C493.7 416.1 493.2 413.2 494.2 411.8 Z" fill="#ff2800"/>
<path d="M327.9 416.7 C329.6 414.9 334.6 416 338.5 415.2 C342.4 414.4 347.4 413 351.3 411.8 C355.2 410.6 358.4 409 362 408.2 C365.5 407.3 369.1 406.7 372.6 406.7 C376.2 406.7 379 408.3 383.3 408.2 C387.6 408.1 392.9 406.4 398.2 406.1 C403.6 405.7 407.1 405.7 415.3 406.1 C423.5 406.4 441.6 405.5 447.3 408.2 C453 410.9 451.9 419.7 449.4 422 C446.9 424.4 441.6 422.4 432.3 422 C423.1 421.7 405.7 419.7 394 419.9 C382.2 420.1 373 422 362 423.1 C351 424.2 333.6 427.4 327.9 426.3 C322.2 425.2 326.1 418.6 327.9 416.7 Z" fill="#1e8c0a"/>
<path d="M327.9 423.1 C333.6 421.3 351 420.9 362 419.9 C373 419 382.2 417.4 394 417.4 C405.7 417.3 423.1 418.4 432.3 419.5 C441.6 420.6 449.4 423.2 449.4 424.2 C449.4 425.1 441.6 425.4 432.3 425.2 C423.1 425.1 405.7 422.9 394 423.1 C382.2 423.3 373 425.1 362 426.3 C351 427.6 333.6 431.1 327.9 430.6 C322.2 430 322.2 424.9 327.9 423.1 Z" fill="#000" filter="url(#mot)"/>
<path d="M359.9 411.8 C360.2 410.8 367.5 410.2 370.5 410.5 C373.5 410.9 378.3 412.9 378 413.9 C377.6 415 371.4 417.1 368.4 416.7 C365.4 416.4 359.5 412.8 359.9 411.8 Z" fill="#ffffff"/>
<path d="M396.1 411 C397 410 402.7 409.6 404.6 410.1 C406.6 410.6 408.7 413 407.8 413.9 C406.9 414.9 401.3 416.1 399.3 415.7 C397.3 415.2 395.2 411.9 396.1 411 Z" fill="#ffffff"/>
<path d="M327.9 428.4 C330.4 422.8 337.1 428.1 342.8 427.4 C348.5 426.7 355.2 425.5 362 424.2 C368.7 422.9 376.2 420.8 383.3 419.5 C390.4 418.1 398.6 416.4 404.6 416.1 C410.7 415.7 414.9 416 419.6 417.4 C424.2 418.7 428.1 422.2 432.3 424.2 C436.6 426.2 442.3 426.7 445.1 429.5 C448 432.4 449.2 435.9 449.4 441.2 C449.6 446.6 466.5 458.1 446.2 461.5 C425.9 464.9 347.6 467 327.9 461.5 C308.1 456 325.4 434.1 327.9 428.4 Z" fill="#ffa000"/>
<path d="M327.9 432.7 C331.8 427.2 343.9 428.8 351.3 428.4 C358.8 428.1 365.5 429.9 372.6 430.6 C379.8 431.3 386.9 431.6 394 432.7 C401.1 433.8 409.2 434.8 415.3 437 C421.3 439.1 426.7 441.4 430.2 445.5 C433.8 449.6 453.7 458.8 436.6 461.5 C419.6 464.2 346 466.3 327.9 461.5 C309.7 456.7 324 438.2 327.9 432.7 Z" fill="#ff7800"/>
<path d="M327.9 441.2 C331.8 437.1 343.9 437.3 351.3 437 C358.8 436.6 365.5 438.4 372.6 439.1 C379.8 439.8 386.9 440.2 394 441.2 C401.1 442.3 409.2 443.7 415.3 445.5 C421.3 447.3 426.7 449.2 430.2 451.9 C433.8 454.6 453.7 459.9 436.6 461.5 C419.6 463.1 346 464.9 327.9 461.5 C309.7 458.1 324 445.3 327.9 441.2 Z" fill="#ff5000"/>
<path d="M327.9 449.8 C331.8 447.5 343.9 447.3 351.3 447.6 C358.8 448 367.3 449.6 372.6 451.9 C378 454.2 390.8 459.9 383.3 461.5 C375.8 463.1 337.1 463.4 327.9 461.5 C318.6 459.5 324 452.1 327.9 449.8 Z" fill="#ff0000"/>
<path d="M327.9 441.2 C331.8 437.1 343.9 437.3 351.3 437 C358.8 436.6 365.5 438.4 372.6 439.1 C379.8 439.8 386.9 440.2 394 441.2 C401.1 442.3 409.2 443.7 415.3 445.5 C421.3 447.3 426.7 449.2 430.2 451.9 C433.8 454.6 453.7 459.9 436.6 461.5 C419.6 463.1 346 464.9 327.9 461.5 C309.7 458.1 324 445.3 327.9 441.2 Z" fill="#000" filter="url(#so6)"/>
<path d="M411 417.8 C412.8 416.7 422 416.2 425.9 416.7 C429.9 417.2 434.1 419.6 434.5 421 C434.8 422.4 431.3 424.9 428.1 425.2 C424.9 425.6 418.1 424.4 415.3 423.1 C412.4 421.9 409.2 418.8 411 417.8 Z" fill="#ffffff"/>
</g>
<g clip-path="url(#tC)">
<path d="M188.5 476.2 C193.9 470.6 203.5 464.5 212 459.2 C220.5 453.9 234.4 448.2 239.7 444.3 C245 440.4 220.6 437.2 244 435.7 C267.3 434.3 356.5 401.7 380 435.7 C403.5 469.8 418 606 384.7 640 C351.4 674 214.1 664.4 180 640 C145.9 615.6 178.6 520.6 180 493.3 C181.4 466 183.2 481.9 188.5 476.2 Z" fill="#ffa000"/>
<path d="M203.5 486.9 C205.9 481.6 215.9 477.7 222.6 472 C229.4 466.3 236.9 457.1 244 452.8 C251.1 448.5 254.6 447.8 265.3 446.4 C275.9 445 293.7 445 307.9 444.3 C322.1 443.6 338.6 442.8 350.6 442.1 C362.6 441.4 375.1 411.2 380 440 C384.9 468.8 384.9 586.8 380 614.8 C375.1 642.9 359 612 350.6 608.4 C342.1 604.9 337.8 596.7 329.3 593.5 C320.7 590.3 307.9 591.7 299.4 589.3 C290.9 586.8 283.8 582.9 278.1 578.6 C272.4 574.3 269.9 569 265.3 563.7 C260.7 558.3 255.3 552.3 250.4 546.6 C245.4 540.9 240.4 534.5 235.4 529.6 C230.5 524.6 225.1 521 220.5 516.8 C215.9 512.5 210.6 508.9 207.7 504 C204.9 499 201 492.2 203.5 486.9 Z" fill="#ff7800"/>
<path d="M226.9 510.4 C228.3 505 237.6 494.7 244 489 C250.4 483.4 257.5 479.4 265.3 476.2 C273.1 473 282 471.3 290.9 469.9 C299.8 468.4 310.1 469.5 318.6 467.7 C327.1 465.9 331.8 462.4 342 459.2 C352.3 456 373.7 424 380 448.5 C386.3 473 384.2 580.7 380 606.3 C375.8 631.9 362.6 605.2 354.8 602 C347.1 598.8 341.3 590 333.5 587.1 C325.7 584.3 316.5 587.5 307.9 585 C299.4 582.5 289.5 577.9 282.3 572.2 C275.2 566.5 270.6 557.3 265.3 550.9 C260 544.5 255.3 538.8 250.4 533.8 C245.4 528.8 239.3 524.9 235.4 521 C231.5 517.1 225.5 515.7 226.9 510.4 Z" fill="#ff5000"/>
<path d="M244 510.4 C245.7 505.7 254.6 499.7 261 495.4 C267.4 491.2 274.5 487.3 282.3 484.8 C290.2 482.3 299.4 482.6 307.9 480.5 C316.5 478.4 326.4 474.8 333.5 472 C340.6 469.1 342.8 466.7 350.6 463.5 C358.3 460.3 375.1 431.1 380 452.8 C384.9 474.5 383.1 570.8 380 593.5 C376.9 616.3 367.6 592.1 361.2 589.3 C354.9 586.4 349.2 579.3 342 576.5 C334.9 573.6 326.4 573.6 318.6 572.2 C310.8 570.8 301.9 571.1 295.1 567.9 C288.4 564.7 283.4 558.3 278.1 553 C272.8 547.7 267.8 540.9 263.2 535.9 C258.5 531 253.6 527.4 250.4 523.2 C247.2 518.9 242.2 515 244 510.4 Z" fill="#ff2800"/>
<path d="M203.5 486.9 C205.9 481.6 215.9 477.7 222.6 472 C229.4 466.3 236.9 457.1 244 452.8 C251.1 448.5 254.6 447.8 265.3 446.4 C275.9 445 293.7 445 307.9 444.3 C322.1 443.6 338.6 442.8 350.6 442.1 C362.6 441.4 375.1 411.2 380 440 C384.9 468.8 384.9 586.8 380 614.8 C375.1 642.9 359 612 350.6 608.4 C342.1 604.9 337.8 596.7 329.3 593.5 C320.7 590.3 307.9 591.7 299.4 589.3 C290.9 586.8 283.8 582.9 278.1 578.6 C272.4 574.3 269.9 569 265.3 563.7 C260.7 558.3 255.3 552.3 250.4 546.6 C245.4 540.9 240.4 534.5 235.4 529.6 C230.5 524.6 225.1 521 220.5 516.8 C215.9 512.5 210.6 508.9 207.7 504 C204.9 499 201 492.2 203.5 486.9 Z" fill="#000" filter="url(#so4)"/>
<path d="M239.7 452.8 C244.7 445 253.9 447.8 265.3 446.4 C276.7 445 295.1 445 307.9 444.3 C320.7 443.6 336.4 437.5 342 442.1 C347.7 446.8 347.7 465.6 342 472 C336.4 478.4 317.9 478.4 307.9 480.5 C298 482.6 290.2 482.3 282.3 484.8 C274.5 487.3 267.4 491.2 261 495.4 C254.6 499.7 248.2 510.7 244 510.4 C239.7 510 236.1 502.9 235.4 493.3 C234.7 483.7 234.7 460.6 239.7 452.8 Z" fill="#000" filter="url(#so6)"/>
<path d="M244 510.4 C245.7 505.7 254.6 499.7 261 495.4 C267.4 491.2 274.5 487.3 282.3 484.8 C290.2 482.3 299.4 482.6 307.9 480.5 C316.5 478.4 327.5 474.1 333.5 472 C339.6 469.9 342.4 450.3 344.2 467.7 C346 485.1 348.4 559 344.2 576.5 C339.9 593.9 326.8 573.6 318.6 572.2 C310.4 570.8 301.9 571.1 295.1 567.9 C288.4 564.7 283.4 558.3 278.1 553 C272.8 547.7 267.8 540.9 263.2 535.9 C258.5 531 253.6 527.4 250.4 523.2 C247.2 518.9 242.2 515 244 510.4 Z" fill="#ff5000"/>
<path d="M244 510.4 C245.7 505.7 254.6 499.7 261 495.4 C267.4 491.2 274.5 487.3 282.3 484.8 C290.2 482.3 299.4 482.6 307.9 480.5 C316.5 478.4 327.5 474.1 333.5 472 C339.6 469.9 342.4 450.3 344.2 467.7 C346 485.1 348.4 559 344.2 576.5 C339.9 593.9 326.8 573.6 318.6 572.2 C310.4 570.8 301.9 571.1 295.1 567.9 C288.4 564.7 283.4 558.3 278.1 553 C272.8 547.7 267.8 540.9 263.2 535.9 C258.5 531 253.6 527.4 250.4 523.2 C247.2 518.9 242.2 515 244 510.4 Z" fill="#000" filter="url(#so6)"/>
<path d="M261 521 C263.5 516.8 274.5 511.4 282.3 508.2 C290.2 505 300.1 504 307.9 501.8 C315.7 499.7 323.2 496.9 329.3 495.4 C335.3 494 341.7 481.2 344.2 493.3 C346.7 505.4 348.4 556.6 344.2 567.9 C339.9 579.3 326.8 563 318.6 561.5 C310.4 560.1 301.5 561.9 295.1 559.4 C288.7 556.9 284.8 550.9 280.2 546.6 C275.6 542.3 270.6 538.1 267.4 533.8 C264.2 529.6 258.5 525.3 261 521 Z" fill="#000" filter="url(#so6)"/>
<path d="M337.8 469.9 C339.6 463.1 345.6 465.6 350.6 463.5 C355.6 461.3 362.5 458.8 367.6 457.1 C372.8 455.3 379.2 432.9 381.5 452.8 C383.8 472.7 384.9 556.6 381.5 576.5 C378.1 596.4 366.4 574.3 361.2 572.2 C356.1 570.1 353.4 567.9 350.6 563.7 C347.7 559.4 346 556.6 344.2 546.6 C342.4 536.7 341 516.8 339.9 504 C338.8 491.2 336 476.6 337.8 469.9 Z" fill="#ff0000"/>
<path d="M269.6 450.7 C272 447.8 281.6 443.9 286.6 444.3 C291.6 444.6 298 449.2 299.4 452.8 C300.8 456.3 298.3 463.1 295.1 465.6 C291.9 468.1 284.1 468.4 280.2 467.7 C276.3 467 273.5 464.2 271.7 461.3 C269.9 458.5 267.1 453.5 269.6 450.7 Z" fill="#ff0000"/>
<path d="M180 437.9 C190.7 429 233.7 436.4 244 437.9 C254.3 439.3 245.4 443.9 241.8 446.4 C238.3 448.9 228.3 451.7 222.6 452.8 C217 453.9 211.3 450 207.7 452.8 C204.2 455.6 203.8 465.9 201.3 469.9 C198.8 473.8 194.9 473 192.8 476.2 C190.7 479.4 190.7 486.6 188.5 489 C186.4 491.5 181.4 499.7 180 491.2 C178.6 482.6 169.3 446.8 180 437.9 Z" fill="#55f055"/>
<path d="M180 437.9 C189.6 432.2 229 436.4 237.6 437.9 C246.1 439.3 235.4 444.3 231.2 446.4 C226.9 448.5 217 449.6 212 450.7 C207 451.7 204.5 451 201.3 452.8 C198.1 454.6 195.3 458.5 192.8 461.3 C190.3 464.2 188.5 468.1 186.4 469.9 C184.3 471.6 181.1 477.3 180 472 C178.9 466.7 170.4 443.6 180 437.9 Z" fill="#005000"/>
<path d="M180 469.9 C181.4 466.3 185.3 465.6 188.5 463.5 C191.7 461.3 197.1 456 199.2 457.1 C201.3 458.1 202.4 466.7 201.3 469.9 C200.3 473 195.3 474.1 192.8 476.2 C190.3 478.4 188.5 481.2 186.4 482.6 C184.3 484.1 181.1 486.9 180 484.8 C178.9 482.6 178.6 473.4 180 469.9 Z" fill="#1e8c0a"/>
<path d="M201.3 457.1 C202.7 455.3 208.1 453.9 209.9 454.9 C211.6 456 212.7 461 212 463.5 C211.3 465.9 207.4 469.5 205.6 469.9 C203.8 470.2 202 467.7 201.3 465.6 C200.6 463.5 199.9 458.8 201.3 457.1 Z" fill="#ffffff"/>
<path d="M188.5 478.4 C189.8 476.6 194.4 474.3 197.1 474.1 C199.7 473.9 203.5 475.4 204.5 477.3 C205.6 479.3 205.1 484.1 203.5 485.8 C201.9 487.6 197.2 488.2 194.9 488 C192.6 487.8 190.7 486.4 189.6 484.8 C188.5 483.2 187.3 480.2 188.5 478.4 Z" fill="#ffc800"/>
<path d="M220.5 496.5 C222.3 494.2 227.3 492.2 231.2 492.2 C235.1 492.2 242.2 493.8 244 496.5 C245.7 499.2 244.3 505.7 241.8 508.2 C239.3 510.7 232.6 511.8 229 511.4 C225.5 511.1 221.9 508.6 220.5 506.1 C219.1 503.6 218.7 498.8 220.5 496.5 Z" fill="#ffffff"/>
<path d="M224.8 499.7 C225.5 497.8 229.8 495.9 232.2 495.9 C234.7 495.9 239 498 239.7 499.7 C240.4 501.4 238.5 504.9 236.5 506.1 C234.5 507.3 229.9 508.2 228 507.2 C226 506.1 224.1 501.6 224.8 499.7 Z" fill="#0a780a"/>
<path d="M287.7 493.3 C288.4 491.4 292.7 490.8 294.1 492.2 C295.5 493.7 296.9 499.9 296.2 501.8 C295.5 503.8 291.2 505.4 289.8 504 C288.4 502.5 287 495.3 287.7 493.3 Z" fill="#ffffff"/>
<path d="M235.9 485.8 C237.3 485.1 243.7 484.3 245 484.8 C246.4 485.2 245.4 487.9 244 488.6 C242.5 489.3 237.9 489.5 236.5 489 C235.2 488.6 234.4 486.6 235.9 485.8 Z" fill="#55f055"/>
<path d="M229 516.8 C230.5 516 234.7 518.9 235.4 521 C236.1 523.2 234.7 528.8 233.3 529.6 C231.9 530.3 227.6 527.4 226.9 525.3 C226.2 523.2 227.6 517.5 229 516.8 Z" fill="#ffffff"/>
<path d="M299.4 589.3 C299.8 586.4 312.2 581.1 318.6 580.7 C325 580.4 332.5 585.7 337.8 587.1 C343.1 588.5 348.4 585.3 350.6 589.3 C352.7 593.2 353.4 607.4 350.6 610.6 C347.7 613.8 339.2 610.6 333.5 608.4 C327.8 606.3 322.1 601 316.5 597.8 C310.8 594.6 299 592.1 299.4 589.3 Z" fill="#ffa000"/>
<path d="M312.2 589.3 C312.6 587.3 322.1 585.7 327.1 586.1 C332.1 586.4 338.1 589.8 342 591.4 C346 593 349.2 592.5 350.6 595.7 C352 598.8 352.7 608.4 350.6 610.6 C348.4 612.7 342 610.6 337.8 608.4 C333.5 606.3 329.3 601 325 597.8 C320.7 594.6 311.8 591.2 312.2 589.3 Z" fill="#ffc800"/>
<path d="M329.3 593.5 C329.8 592.1 334.1 591.6 335.7 592.5 C337.2 593.3 339.4 597.4 338.8 598.8 C338.3 600.3 334.1 601.9 332.5 601 C330.9 600.1 328.7 594.9 329.3 593.5 Z" fill="#ffffff"/>
<path d="M316.5 579.7 C317.1 578.7 320.7 578 321.8 578.6 C322.9 579.2 323.9 582.3 323.3 583.3 C322.7 584.3 319.3 585.2 318.2 584.6 C317 584 315.9 580.7 316.5 579.7 Z" fill="#ffffff"/>
</g>
<g clip-path="url(#tD)">
<path d="M330 437.9 C349.4 404.1 426.3 426.9 446.2 437.9 C466.1 448.9 448.9 489.4 449.4 504 C449.9 518.5 450.5 518.9 449.4 525.3 C448.3 531.7 446.6 538.1 443 542.3 C439.5 546.6 431.6 548 428.1 550.9 C424.5 553.7 423.1 555.1 421.7 559.4 C420.3 563.7 419.2 571.5 419.6 576.5 C419.9 581.4 422.4 585 423.8 589.3 C425.2 593.5 426.7 597.8 428.1 602 C429.5 606.3 429.9 608.4 432.3 614.8 C434.8 621.2 460.1 636.2 443 640.4 C425.9 644.7 348.8 674.2 330 640.4 C311.2 606.7 310.6 471.6 330 437.9 Z" fill="#ffc800"/>
<path d="M330 437.9 C349.2 404.1 425.6 426.9 445.1 437.9 C464.7 448.9 447.3 488.7 447.3 504 C447.3 519.2 446.9 523.5 445.1 529.6 C443.4 535.6 440.2 538.4 436.6 540.2 C433.1 542 427.9 538.8 423.8 540.2 C419.7 541.6 414.9 544.1 412.1 548.7 C409.2 553.4 406.8 561.2 406.8 567.9 C406.8 574.7 409.6 583.6 412.1 589.3 C414.6 594.9 419.4 597.1 421.7 602 C424 607 424.2 612.7 425.9 619.1 C427.7 625.5 448.3 636.9 432.3 640.4 C416.4 644 347.1 674.2 330 640.4 C312.9 606.7 310.8 471.6 330 437.9 Z" fill="#ffa000"/>
<path d="M330 437.9 C346.2 404.1 411 430.4 427 437.9 C443 445.3 427.9 471.6 425.9 482.6 C424 493.7 418.4 498.3 415.3 504 C412.2 509.7 409.3 511.4 407.2 516.8 C405.1 522.1 403.9 529.2 402.5 535.9 C401.1 542.7 399 550.2 398.7 557.3 C398.3 564.4 399 572.6 400.4 578.6 C401.7 584.6 404.6 588.5 406.8 593.5 C408.9 598.5 411 600.6 413.2 608.4 C415.3 616.3 433.4 635.1 419.6 640.4 C405.7 645.8 344.9 674.2 330 640.4 C315.1 606.7 313.8 471.6 330 437.9 Z" fill="#ff7800"/>
<path d="M330 437.9 C345.3 409.8 406.4 434 421.7 437.9 C437 441.8 423.5 453.9 421.7 461.3 C419.9 468.8 414.6 475.5 411 482.6 C407.5 489.8 403.2 496.9 400.4 504 C397.5 511.1 396.1 518.2 394 525.3 C391.8 532.4 389 539.5 387.6 546.6 C386.1 553.7 385.8 560.8 385.4 567.9 C385.1 575 386.5 582.9 385.4 589.3 C384.4 595.7 388.3 603.5 379 606.3 C369.8 609.2 338.2 634.4 330 606.3 C321.8 578.2 314.7 465.9 330 437.9 Z" fill="#ff5000"/>
<path d="M330 437.9 C344.2 413 402.1 434 415.3 437.9 C428.4 441.8 411.7 453.9 408.9 461.3 C406 468.8 401.8 475.5 398.2 482.6 C394.7 489.8 390.4 496.9 387.6 504 C384.7 511.1 382.9 518.2 381.2 525.3 C379.4 532.4 378.3 539.5 376.9 546.6 C375.5 553.7 374.2 561.5 372.6 567.9 C371 574.3 369.8 581.4 367.3 585 C364.8 588.5 363.9 588.9 357.7 589.3 C351.5 589.6 334.6 612.4 330 587.1 C325.4 561.9 315.8 462.7 330 437.9 Z" fill="#ff2800"/>
<path d="M330 467.7 C332.1 451.5 339.2 468.1 342.8 468.8 C346.3 469.5 348.1 472.2 351.3 472 C354.5 471.8 357.4 470.2 362 467.7 C366.6 465.2 374.4 460.3 379 457.1 C383.7 453.9 386.5 451.7 389.7 448.5 C392.9 445.3 395.9 439.6 398.2 437.9 C400.5 436.1 404.3 434 403.6 437.9 C402.9 441.8 397.3 453.9 394 461.3 C390.6 468.8 386.9 475.5 383.3 482.6 C379.8 489.8 375.1 496.9 372.6 504 C370.2 511.1 369.4 518.2 368.4 525.3 C367.3 532.4 367 540.2 366.2 546.6 C365.5 553 365.5 559.8 364.1 563.7 C362.7 567.6 360.2 568.8 357.7 570.1 C355.2 571.3 352.4 571.5 349.2 571.1 C346 570.8 341.7 568.8 338.5 567.9 C335.3 567 331.4 582.5 330 565.8 C328.6 549.1 327.9 483.9 330 467.7 Z" fill="#ff0000"/>
<path d="M423.8 555.1 C425.6 550.9 428.8 551.4 432.3 550.9 C435.9 550.3 440.9 549.1 445.1 551.9 C449.4 554.8 454.9 561.7 457.9 567.9 C461 574.2 468.8 585 463.3 589.3 C457.8 593.5 431.8 595.7 424.9 593.5 C418 591.4 421.9 582.9 421.7 576.5 C421.5 570.1 422 559.4 423.8 555.1 Z" fill="#ffffff"/>
<path d="M330 585 C331.8 581.1 337.5 585 340.7 587.1 C343.9 589.3 348.8 594.2 349.2 597.8 C349.5 601.3 346 606.3 342.8 608.4 C339.6 610.6 332.1 614.5 330 610.6 C327.9 606.7 328.2 588.9 330 585 Z" fill="#ffc800"/>
<path d="M357.7 604.2 C359.9 600.3 367.3 599.9 372.6 599.9 C378 599.9 385.8 601.3 389.7 604.2 C393.6 607 395.7 613.1 396.1 617 C396.5 620.9 395.7 625.4 391.8 627.6 C387.9 629.8 378 630.9 372.6 630.2 C367.3 629.5 362.3 627.7 359.9 623.4 C357.4 619 355.6 608.1 357.7 604.2 Z" fill="#ffffff"/>
<path d="M365.2 608.4 C367.2 605.5 373.5 601.6 376.9 601.6 C380.4 601.6 384.4 605.2 385.9 608.4 C387.4 611.7 388.1 618.5 385.9 621.2 C383.7 624 376.2 625.4 372.6 625.1 C369.1 624.8 365.8 622.3 364.5 619.5 C363.3 616.8 363.1 611.4 365.2 608.4 Z" fill="#55f055"/>
<path d="M371.6 605.2 C372.5 603.6 376.9 601.5 379 602 C381.2 602.6 384 606.5 384.4 608.4 C384.7 610.4 382.9 613.2 381.2 613.8 C379.4 614.3 375.3 613.1 373.7 611.6 C372.1 610.2 370.7 606.8 371.6 605.2 Z" fill="#0a780a"/>
<path d="M435.5 497.6 C436.3 493.7 443.9 485.8 446.2 480.5 C448.5 475.2 447.1 469 449.4 465.6 C451.7 462.2 457.2 463.1 460.1 460.3 C462.9 457.4 463.3 449.8 466.5 448.5 C469.7 447.3 475 453.3 479.3 452.8 C483.5 452.3 487.8 446 492 445.3 C496.3 444.6 500.6 449.4 504.8 448.5 C509.1 447.6 513.4 440.7 517.6 440 C521.8 439.3 527.9 432.9 530 444.3 C532.1 455.6 532.1 495.8 530 508.2 C527.9 520.7 521.8 516 517.6 518.9 C513.4 521.7 509.1 523.5 504.8 525.3 C500.6 527.1 496.3 528.1 492 529.6 C487.8 531 483.5 532.4 479.3 533.8 C475 535.2 470.7 538.1 466.5 538.1 C462.2 538.1 457.4 536.7 453.7 533.8 C449.9 531 446 526 444.1 521 C442.1 516 443.4 507.9 441.9 504 C440.5 500.1 434.8 501.5 435.5 497.6 Z" fill="#55f055"/>
<path d="M438.7 495.4 C439.3 491.9 447.1 487.3 449.4 482.6 C451.7 478 450.5 470.7 452.6 467.7 C454.7 464.7 459.5 466.3 462.2 464.5 C464.9 462.7 465.7 457.6 468.6 457.1 C471.4 456.5 475.3 460.6 479.3 461.3 C483.2 462 487.8 460.8 492 461.3 C496.3 461.9 500.6 464.7 504.8 464.5 C509.1 464.3 513.2 460.6 517.6 460.3 C522.1 459.9 529.2 455.1 531.5 462.4 C533.8 469.7 533.8 495.4 531.5 504 C529.2 512.5 522.1 510.9 517.6 513.6 C513.2 516.2 509.1 518.2 504.8 520 C500.6 521.7 496.3 522.8 492 524.2 C487.8 525.6 483.5 527.1 479.3 528.5 C475 529.9 470.2 532.6 466.5 532.8 C462.7 532.9 459.9 531.9 456.9 529.6 C453.8 527.2 450.1 523.2 448.3 518.9 C446.6 514.6 447.8 507.9 446.2 504 C444.6 500.1 438.2 499 438.7 495.4 Z" fill="#005000"/>
<path d="M479.3 444.3 C481.7 441.9 490.6 438.8 496.3 438.9 C502 439.1 511.6 442.3 513.4 445.3 C515.1 448.4 510.5 454.7 507 457.1 C503.4 459.4 496.2 460.3 492 459.6 C487.9 459 483.9 455.8 481.8 453.2 C479.7 450.7 476.8 446.6 479.3 444.3 Z" fill="#ffa000"/>
<path d="M485.7 446.4 C487.1 444.4 494.9 442.8 498.4 443.2 C502 443.6 506.6 446.6 507 448.5 C507.3 450.5 503.4 453.9 500.6 454.9 C497.7 456 492.4 456.3 489.9 454.9 C487.4 453.5 484.2 448.4 485.7 446.4 Z" fill="#ff5000"/>
<path d="M494.2 533.8 C497 529.6 504.5 525.8 509.1 522.1 C513.7 518.4 518.2 514.4 521.9 511.4 C525.6 508.4 529.9 495.6 531.5 504 C533.1 512.3 533.1 550.5 531.5 561.5 C529.9 572.6 524.9 570.2 521.9 570.1 C518.9 569.9 516.9 563.3 513.4 560.5 C509.8 557.6 504.1 555.1 500.6 553 C497 550.9 493.1 550.9 492 547.7 C491 544.5 491.3 538.1 494.2 533.8 Z" fill="#ffa000"/>
<path d="M509.1 529.6 C510.5 526 518.2 521.4 521.9 518.9 C525.6 516.4 529.9 510.7 531.5 514.6 C533.1 518.5 533.1 537 531.5 542.3 C529.9 547.7 524.9 547 521.9 546.6 C518.9 546.3 515.5 543.1 513.4 540.2 C511.2 537.4 507.7 533.1 509.1 529.6 Z" fill="#ff5000"/>
<path d="M479.3 540.2 C481.4 537 488.5 534.5 492 533.8 C495.6 533.1 499.5 533.8 500.6 535.9 C501.6 538.1 500.6 543.4 498.4 546.6 C496.3 549.8 490.3 553 487.8 555.1 C485.3 557.3 484.9 559.8 483.5 559.4 C482.1 559 480 556.2 479.3 553 C478.5 549.8 477.1 543.4 479.3 540.2 Z" fill="#55f055"/>
</g>
<g clip-path="url(#tE)">
<path d="M508.5 283.5 C511.9 277.9 524.3 277.1 528.8 280.3 C533.2 283.5 535.7 297.1 535.2 302.6 C534.6 308.2 530 311.5 525.6 313.3 C521.1 315.1 511.4 318.3 508.5 313.3 C505.7 308.3 505.2 289 508.5 283.5 Z" fill="#000" filter="url(#mot)"/>
<path d="M512.8 302.6 C516.3 302.3 526.3 299.8 529.9 300.5 C533.4 301.2 532.3 302.6 534.1 306.9 C535.9 311.2 537.7 320.1 540.5 326.1 C543.4 332.1 546.2 338.5 551.2 343.2 C556.1 347.8 564 349.6 570.4 353.8 C576.8 358.1 584.2 363.8 589.6 368.7 C594.9 373.7 597.9 379.6 602.3 383.7 C606.8 387.8 611.9 390.8 616.2 393.3 C620.5 395.7 627 395.9 627.9 398.6 C628.8 401.3 624.4 406.1 621.5 409.3 C618.7 412.5 613.4 414.2 610.9 417.8 C608.4 421.3 605.9 426.3 606.6 430.6 C607.3 434.8 611.6 439.5 615.1 443.4 C618.7 447.3 624.4 451 627.9 454 C631.5 457.1 658.1 460.2 636.5 461.5 C614.8 462.7 521 486.9 497.9 461.5 C474.8 436.1 496.1 335.5 497.9 309 C499.6 282.6 506 303.7 508.5 302.6 C511 301.6 509.2 303 512.8 302.6 Z" fill="#55f055"/>
<path d="M497.9 313.3 C500.4 287.2 508.5 306.9 512.8 304.8 C517.1 302.6 520.6 298.7 523.5 300.5 C526.3 302.3 527.7 310.1 529.9 315.4 C532 320.8 533.4 326.8 536.2 332.5 C539.1 338.2 542.3 344.9 546.9 349.6 C551.5 354.2 558.3 356.7 564 360.2 C569.7 363.8 576 367 581 370.9 C586 374.8 589.6 379.4 593.8 383.7 C598.1 387.9 605.2 392.2 606.6 396.5 C608 400.7 604.1 405 602.3 409.3 C600.6 413.5 597.4 417.8 595.9 422 C594.5 426.3 593.5 430.6 593.8 434.8 C594.2 439.1 596.7 443.2 598.1 447.6 C599.5 452.1 619 459.2 602.3 461.5 C585.6 463.8 515.3 486.2 497.9 461.5 C480.5 436.8 495.4 339.4 497.9 313.3 Z" fill="#32a014"/>
<path d="M497.9 313.3 C500.4 296.8 508.9 311.4 512.8 310.1 C516.7 308.9 518.8 305.7 521.3 305.8 C523.8 306 525.9 307.4 527.7 311.2 C529.5 314.9 530.4 322.2 532 328.2 C533.6 334.3 535 342.6 537.3 347.4 C539.6 352.2 543.2 354.5 545.8 357 C548.5 359.5 551.2 359.3 553.3 362.3 C555.4 365.4 556.9 370.5 558.6 375.1 C560.4 379.8 561.7 385.8 564 390.1 C566.3 394.3 569.5 397.2 572.5 400.7 C575.5 404.3 580 407.8 582.1 411.4 C584.2 414.9 585.8 418.5 585.3 422 C584.8 425.6 581.7 429.5 578.9 432.7 C576 435.9 571.1 438 568.2 441.2 C565.4 444.4 563.6 451.9 561.8 451.9 C560.1 451.9 559 445.1 557.6 441.2 C556.1 437.3 554.7 433.1 553.3 428.4 C551.9 423.8 550.8 417.1 549 413.5 C547.3 410 545.5 408.5 542.6 407.1 C539.8 405.7 535.5 404.6 532 405 C528.4 405.3 524.9 408.9 521.3 409.3 C517.8 409.6 514.6 407.1 510.7 407.1 C506.8 407.1 500 424.9 497.9 409.3 C495.7 393.6 495.4 329.8 497.9 313.3 Z" fill="#005000"/>
<path d="M538.4 364.5 C540.2 358.4 550.1 359.9 553.3 362.3 C556.5 364.8 557.2 373.4 557.6 379.4 C557.9 385.4 556.9 393.6 555.4 398.6 C554 403.6 551.2 409.3 549 409.3 C546.9 409.3 544.4 406.1 542.6 398.6 C540.9 391.1 536.6 370.5 538.4 364.5 Z" fill="#1e8c0a"/>
<path d="M510.7 390.1 C511.7 387.9 516.3 387.6 519.2 387.9 C522 388.3 526.7 390.1 527.7 392.2 C528.8 394.3 528.1 399.3 525.6 400.7 C523.1 402.1 515.3 402.5 512.8 400.7 C510.3 398.9 509.6 392.2 510.7 390.1 Z" fill="#ffffff"/>
<path d="M497.9 412.5 C499.5 410.2 505 410.7 507.5 411.8 C509.9 412.9 512.7 416.4 512.4 418.8 C512 421.3 507.7 425.2 505.3 426.3 C502.9 427.4 499.1 427.6 497.9 425.2 C496.6 422.9 496.3 414.7 497.9 412.5 Z" fill="#ffc800"/>
<path d="M497.9 414.6 C499.3 413.1 504.3 413.2 506.4 413.9 C508.5 414.7 510.6 417.2 510.2 418.8 C509.9 420.5 506.3 423 504.3 423.8 C502.2 424.5 498.9 424.6 497.9 423.1 C496.8 421.6 496.4 416.1 497.9 414.6 Z" fill="#ff0000"/>
<path d="M620.5 411.4 C621.2 409.8 626.3 408.7 627.9 409.3 C629.6 409.8 631.2 413 630.5 414.6 C629.8 416.2 625.3 419.4 623.7 418.8 C622 418.3 619.8 413 620.5 411.4 Z" fill="#55f055"/>
<path d="M536.2 343.2 C536.6 341.7 539.4 340.3 540.5 341 C541.6 341.7 543 346 542.6 347.4 C542.3 348.8 539.4 350.3 538.4 349.6 C537.3 348.8 535.9 344.6 536.2 343.2 Z" fill="#ffa000"/>
</g>
<g clip-path="url(#tF)">
<path d="M548.2 427.9 C555.7 425.4 586.6 425.4 595.1 427.9 C603.7 430.4 596.6 440 599.4 442.8 C602.2 445.6 607.2 443.1 612.2 444.9 C617.2 446.7 625.7 451 629.3 453.5 C632.8 455.9 635.7 458.4 633.5 459.9 C631.4 461.3 622.1 460.6 616.5 462 C610.8 463.4 603.7 465.5 599.4 468.4 C595.1 471.2 593.7 477.3 590.9 479 C588 480.8 585.9 480.8 582.3 479 C578.8 477.3 573.1 472.3 569.6 468.4 C566 464.5 564.2 459.9 561 455.6 C557.8 451.3 552.5 447.4 550.4 442.8 C548.2 438.2 540.8 430.4 548.2 427.9 Z" fill="#55f055"/>
<path d="M565.3 442.8 C568.1 438.9 581.6 437.1 586.6 438.5 C591.6 440 594.4 446.3 595.1 451.3 C595.8 456.3 593.4 464.8 590.9 468.4 C588.4 471.9 583.8 473.7 580.2 472.6 C576.7 471.6 572 467 569.6 462 C567.1 457 562.4 446.7 565.3 442.8 Z" fill="#32a014"/>
<path d="M552.5 427.9 C557.5 425.4 581.6 425.4 586.6 427.9 C591.6 430.4 584.1 438.9 582.3 442.8 C580.6 446.7 578.8 449.9 575.9 451.3 C573.1 452.7 568.5 452.7 565.3 451.3 C562.1 449.9 558.9 446.7 556.8 442.8 C554.6 438.9 547.5 430.4 552.5 427.9 Z" fill="#005000"/>
<path d="M528 440.7 C530.1 429.6 538.3 437.1 540.8 439.6 C543.3 442.1 543.3 450.1 542.9 455.6 C542.5 461.1 539 467 538.6 472.6 C538.3 478.3 541.5 484.5 540.8 489.7 C540.1 494.9 536.5 500.9 534.4 503.6 C532.2 506.2 529 516.2 528 505.7 C526.9 495.2 525.8 451.7 528 440.7 Z" fill="#55f055"/>
<path d="M528 442.8 C529.5 432.7 535.2 439.2 537.1 441.7 C539.1 444.2 539.9 452.6 539.7 457.7 C539.5 462.9 536.2 467.3 535.9 472.6 C535.5 478 538.2 485 537.6 489.7 C536.9 494.4 533.4 498.7 531.8 500.8 C530.2 502.9 528.6 511.7 528 502.1 C527.3 492.4 526.4 452.9 528 442.8 Z" fill="#005000"/>
<path d="M537.6 462 C539 457.7 544.7 454.5 548.2 453.5 C551.8 452.4 556.6 453.1 558.9 455.6 C561.2 458.1 562.4 463.8 562.1 468.4 C561.7 473 559.4 480.1 556.8 483.3 C554.1 486.5 548.9 488.3 546.1 487.6 C543.3 486.9 541.1 483.3 539.7 479 C538.3 474.8 536.1 466.2 537.6 462 Z" fill="#ffa000"/>
<path d="M544 470.5 C544.7 468 548.6 465.9 550.4 466.2 C552.1 466.6 554.3 470.2 554.6 472.6 C555 475.1 553.9 479.8 552.5 481.2 C551.1 482.6 547.5 482.9 546.1 481.2 C544.7 479.4 543.3 473 544 470.5 Z" fill="#ff2800"/>
<path d="M516.2 562.2 C516.6 557.9 520.5 551.2 522.6 545.1 C524.8 539.1 527.3 531.6 529 525.9 C530.8 520.3 531.2 516 533.3 511 C535.4 506 537.6 499.3 541.8 496.1 C546.1 492.9 553.9 494 558.9 491.8 C563.9 489.7 567.8 485.1 571.7 483.3 C575.6 481.5 579.9 479.4 582.3 481.2 C584.8 482.9 584.1 491.5 586.6 494 C589.1 496.5 595.1 494 597.3 496.1 C599.4 498.2 600.1 502.9 599.4 506.8 C598.7 510.7 594.8 515.6 593 519.6 C591.2 523.5 591.6 527.4 588.7 530.2 C585.9 533.1 580.6 534.1 575.9 536.6 C571.3 539.1 566.4 542.3 561 545.1 C555.7 548 548.6 550.8 544 553.7 C539.3 556.5 537.2 559.4 533.3 562.2 C529.4 565 523.4 570.7 520.5 570.7 C517.7 570.7 515.9 566.5 516.2 562.2 Z" fill="#ffc800"/>
<path d="M522.6 555.8 C522.3 551.5 528.7 539.5 531.2 532.3 C533.7 525.2 534.7 518.1 537.6 513.2 C540.4 508.2 544.3 505 548.2 502.5 C552.1 500 556.8 500.7 561 498.2 C565.3 495.7 569.9 489 573.8 487.6 C577.7 486.1 582.3 487.6 584.5 489.7 C586.6 491.8 585.5 497.5 586.6 500.4 C587.7 503.2 590.9 503.6 590.9 506.8 C590.9 510 588.7 515.6 586.6 519.6 C584.5 523.5 581.6 527 578.1 530.2 C574.5 533.4 570.3 535.9 565.3 538.7 C560.3 541.6 553.6 544.1 548.2 547.3 C542.9 550.5 537.6 556.5 533.3 557.9 C529 559.4 523 560.1 522.6 555.8 Z" fill="#ffa000"/>
<path d="M526.9 540.9 C527.6 536.6 532.6 529.1 535.4 523.8 C538.3 518.5 540.4 512.1 544 508.9 C547.5 505.7 552.5 507.1 556.8 504.6 C561 502.1 565.6 496.1 569.6 494 C573.5 491.8 578.4 490.1 580.2 491.8 C582 493.6 581.6 500.7 580.2 504.6 C578.8 508.5 574.2 511.4 571.7 515.3 C569.2 519.2 567.8 524.2 565.3 528.1 C562.8 532 560.3 535.9 556.8 538.7 C553.2 541.6 548.2 543.4 544 545.1 C539.7 546.9 534 550.1 531.2 549.4 C528.3 548.7 526.2 545.1 526.9 540.9 Z" fill="#ff5000"/>
<path d="M550.4 515.3 C551.1 512.8 557.8 509.2 561 506.8 C564.2 504.3 567.8 500 569.6 500.4 C571.3 500.7 572.4 506 571.7 508.9 C571 511.7 567.8 515.3 565.3 517.4 C562.8 519.6 559.2 522 556.8 521.7 C554.3 521.3 549.7 517.8 550.4 515.3 Z" fill="#ff0000"/>
<path d="M546.1 532.3 C546.8 530.2 553.6 530.2 556.8 530.2 C560 530.2 564.2 530.6 565.3 532.3 C566.4 534.1 565.3 539.1 563.2 540.9 C561 542.7 555.3 544.4 552.5 543 C549.7 541.6 545.4 534.5 546.1 532.3 Z" fill="#ff0000"/>
<path d="M544 511 C544.7 509.2 549.7 504.3 552.5 502.5 C555.3 500.7 560.3 499.3 561 500.4 C561.7 501.4 558.9 506.8 556.8 508.9 C554.6 511 550.4 512.8 548.2 513.2 C546.1 513.5 543.3 512.8 544 511 Z" fill="#005000"/>
<path d="M533.3 528.1 C534.4 526.8 540.1 524.5 541.8 524.9 C543.6 525.2 545 529 544 530.2 C542.9 531.5 537.2 532.7 535.4 532.3 C533.7 532 532.2 529.3 533.3 528.1 Z" fill="#005000"/>
<path d="M625 483.3 C622.9 479 625 481.2 629.3 485.4 C633.5 489.7 646 502.5 650.6 508.9 C655.2 515.3 656.6 521.3 657 523.8 C657.3 526.3 655.2 525.9 652.7 523.8 C650.2 521.7 646.7 517.8 642 511 C637.4 504.3 627.1 487.6 625 483.3 Z" fill="#55f055"/>
<path d="M619.7 491.8 C619.8 489.9 622.3 489.7 623.9 492.9 C625.5 496.1 628.7 507.6 629.3 511 C629.8 514.4 628.2 514.2 627.1 513.2 C626.1 512.1 624.1 508.2 622.9 504.6 C621.6 501.1 619.5 493.8 619.7 491.8 Z" fill="#55f055"/>
<path d="M637.8 528.1 C638.1 527 642 528.4 644.2 530.2 C646.3 532 647.4 538.4 650.6 538.7 C653.8 539.1 660.2 533.1 663.4 532.3 C666.6 531.6 669.8 533.1 669.8 534.5 C669.8 535.9 666.6 539.5 663.4 540.9 C660.2 542.3 654.1 543.7 650.6 543 C647 542.3 644.2 539.1 642 536.6 C639.9 534.1 637.4 529.1 637.8 528.1 Z" fill="#55f055"/>
<path d="M597.3 553.7 C598.3 552.6 602.6 553.7 605.8 555.8 C609 557.9 614.5 563.6 616.5 566.5 C618.4 569.3 618.9 572.1 617.5 572.9 C616.1 573.6 611 572.5 607.9 570.7 C604.9 568.9 601.2 565 599.4 562.2 C597.6 559.4 596.2 554.7 597.3 553.7 Z" fill="#55f055"/>
<path d="M644.2 462 C647 461.6 660.2 462.5 663.4 463 C666.6 463.6 666.2 464.8 663.4 465.2 C660.5 465.5 649.5 465.7 646.3 465.2 C643.1 464.6 641.3 462.3 644.2 462 Z" fill="#55f055"/>
<path d="M603.7 447.1 C606.2 446 612.2 447.8 616.5 449.2 C620.7 450.6 627.1 453.5 629.3 455.6 C631.4 457.7 632.1 461.3 629.3 462 C626.4 462.7 616.8 460.9 612.2 459.9 C607.6 458.8 603 457.7 601.5 455.6 C600.1 453.5 601.2 448.1 603.7 447.1 Z" fill="#55f055"/>
<path d="M620.7 517.4 C622 516.7 628.2 518.5 629.3 519.6 C630.3 520.6 628.4 523.1 627.1 523.8 C625.9 524.5 622.9 524.9 621.8 523.8 C620.7 522.8 619.5 518.1 620.7 517.4 Z" fill="#55f055"/>
</g>
<g clip-path="url(#tD)">
<path d="M453 444 C456.8 441.7 465.2 444 478 444 C490.8 444 516.3 444.2 530 444 C543.7 443.8 552.5 441.7 560 443 C567.5 444.3 573.3 447.5 575 452 C576.7 456.5 573.3 465.7 570 470 C566.7 474.3 560 477.7 555 478 C550 478.3 545.8 473.3 540 472 C534.2 470.7 526.7 471 520 470 C513.3 469 506.7 467.3 500 466 C493.3 464.7 486.3 462.5 480 462 C473.7 461.5 466.2 463.7 462 463 C457.8 462.3 456.5 461.2 455 458 C453.5 454.8 449.2 446.3 453 444 Z" fill="#1e8c0a"/>
<path d="M453 444 C456.8 441.7 465.2 444 478 444 C490.8 444 516.3 444.2 530 444 C543.7 443.8 552.5 441.7 560 443 C567.5 444.3 573.3 447.5 575 452 C576.7 456.5 573.3 465.7 570 470 C566.7 474.3 560 477.7 555 478 C550 478.3 545.8 473.3 540 472 C534.2 470.7 526.7 471 520 470 C513.3 469 506.7 467.3 500 466 C493.3 464.7 486.3 462.5 480 462 C473.7 461.5 466.2 463.7 462 463 C457.8 462.3 456.5 461.2 455 458 C453.5 454.8 449.2 446.3 453 444 Z" fill="#000" filter="url(#sg6)"/>
<path d="M481 441 C482.5 438 488.5 437.7 492 438 C495.5 438.3 500.3 440.2 502 443 C503.7 445.8 503.3 452.2 502 455 C500.7 457.8 497.2 459.8 494 460 C490.8 460.2 485.2 459.2 483 456 C480.8 452.8 479.5 444 481 441 Z" fill="#ffa000"/>
<path d="M485 444 C485.7 441.7 490.7 440.7 493 441 C495.3 441.3 498.3 443.8 499 446 C499.7 448.2 498.7 452.5 497 454 C495.3 455.5 491 456.7 489 455 C487 453.3 484.3 446.3 485 444 Z" fill="#ff0000"/>
<path d="M509 446 C510 443.7 514.2 443 516 444 C517.8 445 519.7 449.5 520 452 C520.3 454.5 519.7 458 518 459 C516.3 460 511.5 460.2 510 458 C508.5 455.8 508 448.3 509 446 Z" fill="#ffa000"/>
<path d="M511 449 C511.5 447.7 514 447.2 515 448 C516 448.8 517.5 452.7 517 454 C516.5 455.3 513 456.8 512 456 C511 455.2 510.5 450.3 511 449 Z" fill="#ff2800"/>
<path d="M534 438 C535.5 435.8 542.3 435.2 545 436 C547.7 436.8 549.8 440.7 550 443 C550.2 445.3 548.3 449 546 450 C543.7 451 538 451 536 449 C534 447 532.5 440.2 534 438 Z" fill="#ffa000"/>
<path d="M537 440 C537.5 438.7 542.3 438.3 544 439 C545.7 439.7 547.5 442.7 547 444 C546.5 445.3 542.7 447.7 541 447 C539.3 446.3 536.5 441.3 537 440 Z" fill="#ff5000"/>
<path d="M524 461 C525.5 459.3 532.2 458.5 535 459 C537.8 459.5 540.8 462.2 541 464 C541.2 465.8 538.5 469.2 536 470 C533.5 470.8 528 470.5 526 469 C524 467.5 522.5 462.7 524 461 Z" fill="#ffa000"/>
</g>
<g clip-path="url(#tE)">
<path d="M453 444 C456.8 441.7 465.2 444 478 444 C490.8 444 516.3 444.2 530 444 C543.7 443.8 552.5 441.7 560 443 C567.5 444.3 573.3 447.5 575 452 C576.7 456.5 573.3 465.7 570 470 C566.7 474.3 560 477.7 555 478 C550 478.3 545.8 473.3 540 472 C534.2 470.7 526.7 471 520 470 C513.3 469 506.7 467.3 500 466 C493.3 464.7 486.3 462.5 480 462 C473.7 461.5 466.2 463.7 462 463 C457.8 462.3 456.5 461.2 455 458 C453.5 454.8 449.2 446.3 453 444 Z" fill="#1e8c0a"/>
<path d="M453 444 C456.8 441.7 465.2 444 478 444 C490.8 444 516.3 444.2 530 444 C543.7 443.8 552.5 441.7 560 443 C567.5 444.3 573.3 447.5 575 452 C576.7 456.5 573.3 465.7 570 470 C566.7 474.3 560 477.7 555 478 C550 478.3 545.8 473.3 540 472 C534.2 470.7 526.7 471 520 470 C513.3 469 506.7 467.3 500 466 C493.3 464.7 486.3 462.5 480 462 C473.7 461.5 466.2 463.7 462 463 C457.8 462.3 456.5 461.2 455 458 C453.5 454.8 449.2 446.3 453 444 Z" fill="#000" filter="url(#sg6)"/>
<path d="M481 441 C482.5 438 488.5 437.7 492 438 C495.5 438.3 500.3 440.2 502 443 C503.7 445.8 503.3 452.2 502 455 C500.7 457.8 497.2 459.8 494 460 C490.8 460.2 485.2 459.2 483 456 C480.8 452.8 479.5 444 481 441 Z" fill="#ffa000"/>
<path d="M485 444 C485.7 441.7 490.7 440.7 493 441 C495.3 441.3 498.3 443.8 499 446 C499.7 448.2 498.7 452.5 497 454 C495.3 455.5 491 456.7 489 455 C487 453.3 484.3 446.3 485 444 Z" fill="#ff0000"/>
<path d="M509 446 C510 443.7 514.2 443 516 444 C517.8 445 519.7 449.5 520 452 C520.3 454.5 519.7 458 518 459 C516.3 460 511.5 460.2 510 458 C508.5 455.8 508 448.3 509 446 Z" fill="#ffa000"/>
<path d="M511 449 C511.5 447.7 514 447.2 515 448 C516 448.8 517.5 452.7 517 454 C516.5 455.3 513 456.8 512 456 C511 455.2 510.5 450.3 511 449 Z" fill="#ff2800"/>
<path d="M534 438 C535.5 435.8 542.3 435.2 545 436 C547.7 436.8 549.8 440.7 550 443 C550.2 445.3 548.3 449 546 450 C543.7 451 538 451 536 449 C534 447 532.5 440.2 534 438 Z" fill="#ffa000"/>
<path d="M537 440 C537.5 438.7 542.3 438.3 544 439 C545.7 439.7 547.5 442.7 547 444 C546.5 445.3 542.7 447.7 541 447 C539.3 446.3 536.5 441.3 537 440 Z" fill="#ff5000"/>
<path d="M524 461 C525.5 459.3 532.2 458.5 535 459 C537.8 459.5 540.8 462.2 541 464 C541.2 465.8 538.5 469.2 536 470 C533.5 470.8 528 470.5 526 469 C524 467.5 522.5 462.7 524 461 Z" fill="#ffa000"/>
</g>
<g clip-path="url(#tB)">
<path d="M453 444 C456.8 441.7 465.2 444 478 444 C490.8 444 516.3 444.2 530 444 C543.7 443.8 552.5 441.7 560 443 C567.5 444.3 573.3 447.5 575 452 C576.7 456.5 573.3 465.7 570 470 C566.7 474.3 560 477.7 555 478 C550 478.3 545.8 473.3 540 472 C534.2 470.7 526.7 471 520 470 C513.3 469 506.7 467.3 500 466 C493.3 464.7 486.3 462.5 480 462 C473.7 461.5 466.2 463.7 462 463 C457.8 462.3 456.5 461.2 455 458 C453.5 454.8 449.2 446.3 453 444 Z" fill="#1e8c0a"/>
<path d="M453 444 C456.8 441.7 465.2 444 478 444 C490.8 444 516.3 444.2 530 444 C543.7 443.8 552.5 441.7 560 443 C567.5 444.3 573.3 447.5 575 452 C576.7 456.5 573.3 465.7 570 470 C566.7 474.3 560 477.7 555 478 C550 478.3 545.8 473.3 540 472 C534.2 470.7 526.7 471 520 470 C513.3 469 506.7 467.3 500 466 C493.3 464.7 486.3 462.5 480 462 C473.7 461.5 466.2 463.7 462 463 C457.8 462.3 456.5 461.2 455 458 C453.5 454.8 449.2 446.3 453 444 Z" fill="#000" filter="url(#sg6)"/>
<path d="M481 441 C482.5 438 488.5 437.7 492 438 C495.5 438.3 500.3 440.2 502 443 C503.7 445.8 503.3 452.2 502 455 C500.7 457.8 497.2 459.8 494 460 C490.8 460.2 485.2 459.2 483 456 C480.8 452.8 479.5 444 481 441 Z" fill="#ffa000"/>
<path d="M485 444 C485.7 441.7 490.7 440.7 493 441 C495.3 441.3 498.3 443.8 499 446 C499.7 448.2 498.7 452.5 497 454 C495.3 455.5 491 456.7 489 455 C487 453.3 484.3 446.3 485 444 Z" fill="#ff0000"/>
<path d="M509 446 C510 443.7 514.2 443 516 444 C517.8 445 519.7 449.5 520 452 C520.3 454.5 519.7 458 518 459 C516.3 460 511.5 460.2 510 458 C508.5 455.8 508 448.3 509 446 Z" fill="#ffa000"/>
<path d="M511 449 C511.5 447.7 514 447.2 515 448 C516 448.8 517.5 452.7 517 454 C516.5 455.3 513 456.8 512 456 C511 455.2 510.5 450.3 511 449 Z" fill="#ff2800"/>
<path d="M534 438 C535.5 435.8 542.3 435.2 545 436 C547.7 436.8 549.8 440.7 550 443 C550.2 445.3 548.3 449 546 450 C543.7 451 538 451 536 449 C534 447 532.5 440.2 534 438 Z" fill="#ffa000"/>
<path d="M537 440 C537.5 438.7 542.3 438.3 544 439 C545.7 439.7 547.5 442.7 547 444 C546.5 445.3 542.7 447.7 541 447 C539.3 446.3 536.5 441.3 537 440 Z" fill="#ff5000"/>
<path d="M524 461 C525.5 459.3 532.2 458.5 535 459 C537.8 459.5 540.8 462.2 541 464 C541.2 465.8 538.5 469.2 536 470 C533.5 470.8 528 470.5 526 469 C524 467.5 522.5 462.7 524 461 Z" fill="#ffa000"/>
</g>
<g clip-path="url(#tF)">
<path d="M585 447 C593.3 443.7 617.2 447.5 625 450 C632.8 452.5 634.5 457.3 632 462 C629.5 466.7 617 474.7 610 478 C603 481.3 595.8 483.3 590 482 C584.2 480.7 575.8 475.8 575 470 C574.2 464.2 576.7 450.3 585 447 Z" fill="#55f055"/>
<path d="M556 447 C562.3 443.8 588.3 444.5 596 447 C603.7 449.5 603 457.5 602 462 C601 466.5 595.3 471.7 590 474 C584.7 476.3 575.3 477.3 570 476 C564.7 474.7 560.3 470.8 558 466 C555.7 461.2 549.7 450.2 556 447 Z" fill="#32a014"/>
<path d="M453 444 C456.8 441.7 465.2 444 478 444 C490.8 444 516.3 444.2 530 444 C543.7 443.8 552.5 441.7 560 443 C567.5 444.3 573.3 447.5 575 452 C576.7 456.5 573.3 465.7 570 470 C566.7 474.3 560 477.7 555 478 C550 478.3 545.8 473.3 540 472 C534.2 470.7 526.7 471 520 470 C513.3 469 506.7 467.3 500 466 C493.3 464.7 486.3 462.5 480 462 C473.7 461.5 466.2 463.7 462 463 C457.8 462.3 456.5 461.2 455 458 C453.5 454.8 449.2 446.3 453 444 Z" fill="#1e8c0a"/>
<path d="M453 444 C456.8 441.7 465.2 444 478 444 C490.8 444 516.3 444.2 530 444 C543.7 443.8 552.5 441.7 560 443 C567.5 444.3 573.3 447.5 575 452 C576.7 456.5 573.3 465.7 570 470 C566.7 474.3 560 477.7 555 478 C550 478.3 545.8 473.3 540 472 C534.2 470.7 526.7 471 520 470 C513.3 469 506.7 467.3 500 466 C493.3 464.7 486.3 462.5 480 462 C473.7 461.5 466.2 463.7 462 463 C457.8 462.3 456.5 461.2 455 458 C453.5 454.8 449.2 446.3 453 444 Z" fill="#000" filter="url(#sg6)"/>
<path d="M481 441 C482.5 438 488.5 437.7 492 438 C495.5 438.3 500.3 440.2 502 443 C503.7 445.8 503.3 452.2 502 455 C500.7 457.8 497.2 459.8 494 460 C490.8 460.2 485.2 459.2 483 456 C480.8 452.8 479.5 444 481 441 Z" fill="#ffa000"/>
<path d="M485 444 C485.7 441.7 490.7 440.7 493 441 C495.3 441.3 498.3 443.8 499 446 C499.7 448.2 498.7 452.5 497 454 C495.3 455.5 491 456.7 489 455 C487 453.3 484.3 446.3 485 444 Z" fill="#ff0000"/>
<path d="M509 446 C510 443.7 514.2 443 516 444 C517.8 445 519.7 449.5 520 452 C520.3 454.5 519.7 458 518 459 C516.3 460 511.5 460.2 510 458 C508.5 455.8 508 448.3 509 446 Z" fill="#ffa000"/>
<path d="M511 449 C511.5 447.7 514 447.2 515 448 C516 448.8 517.5 452.7 517 454 C516.5 455.3 513 456.8 512 456 C511 455.2 510.5 450.3 511 449 Z" fill="#ff2800"/>
<path d="M534 438 C535.5 435.8 542.3 435.2 545 436 C547.7 436.8 549.8 440.7 550 443 C550.2 445.3 548.3 449 546 450 C543.7 451 538 451 536 449 C534 447 532.5 440.2 534 438 Z" fill="#ffa000"/>
<path d="M537 440 C537.5 438.7 542.3 438.3 544 439 C545.7 439.7 547.5 442.7 547 444 C546.5 445.3 542.7 447.7 541 447 C539.3 446.3 536.5 441.3 537 440 Z" fill="#ff5000"/>
<path d="M524 461 C525.5 459.3 532.2 458.5 535 459 C537.8 459.5 540.8 462.2 541 464 C541.2 465.8 538.5 469.2 536 470 C533.5 470.8 528 470.5 526 469 C524 467.5 522.5 462.7 524 461 Z" fill="#ffa000"/>
<path d="M537.6 462 C539 457.7 544.7 454.5 548.2 453.5 C551.8 452.4 556.6 453.1 558.9 455.6 C561.2 458.1 562.4 463.8 562.1 468.4 C561.7 473 559.4 480.1 556.8 483.3 C554.1 486.5 548.9 488.3 546.1 487.6 C543.3 486.9 541.1 483.3 539.7 479 C538.3 474.8 536.1 466.2 537.6 462 Z" fill="#ffa000"/>
<path d="M544 470.5 C544.7 468 548.6 465.9 550.4 466.2 C552.1 466.6 554.3 470.2 554.6 472.6 C555 475.1 553.9 479.8 552.5 481.2 C551.1 482.6 547.5 482.9 546.1 481.2 C544.7 479.4 543.3 473 544 470.5 Z" fill="#ff2800"/>
</g>
<g clip-path="url(#tH)">
<path d="M586 692.2 C588.1 685.8 595.4 684.4 597.7 679.4 C600 674.4 598.8 667.3 599.9 662.3 C600.9 657.4 604.1 653.1 604.1 649.6 C604.1 646 598.4 643.2 599.9 641 C601.3 638.9 608.4 639.6 612.6 636.8 C616.9 633.9 621.2 627.9 625.4 624 C629.7 620.1 634 614.7 638.2 613.3 C642.5 611.9 647.1 614.4 651 615.4 C654.9 616.5 657.8 620.1 661.7 619.7 C665.6 619.3 669.9 614.7 674.5 613.3 C679.1 611.9 685.5 612.9 689.4 611.2 C693.3 609.4 695.8 606.9 697.9 602.6 C700.1 598.4 700.1 590.6 702.2 585.6 C704.3 580.6 707.9 576 710.7 572.8 C713.6 569.6 717.1 565.7 719.3 566.4 C721.4 567.1 720.7 574.6 723.5 577.1 C726.4 579.5 733.8 578.8 736.3 581.3 C738.8 583.8 740.2 587.4 738.4 592 C736.7 596.6 730.6 603.7 725.7 609 C720.7 614.4 713.9 619.7 708.6 624 C703.3 628.2 698.3 631.4 693.7 634.6 C689 637.8 684.8 640.3 680.9 643.2 C677 646 674.5 648.5 670.2 651.7 C665.9 654.9 660.3 658.4 655.3 662.3 C650.3 666.3 645 670.9 640.4 675.1 C635.7 679.4 631.8 683.7 627.6 687.9 C623.3 692.2 619 697.2 614.8 700.7 C610.5 704.3 605.9 705.7 602 709.3 C598.1 712.8 594.2 720.6 591.3 722 C588.5 723.5 585.8 722.8 584.9 717.8 C584 712.8 583.9 698.6 586 692.2 Z" fill="#55f055"/>
<path d="M586 692.2 C588.1 685.8 595.4 684.4 597.7 679.4 C600 674.4 598.8 667.3 599.9 662.3 C600.9 657.4 604.1 653.1 604.1 649.6 C604.1 646 598.4 643.2 599.9 641 C601.3 638.9 608.4 639.6 612.6 636.8 C616.9 633.9 621.2 627.9 625.4 624 C629.7 620.1 634 614.7 638.2 613.3 C642.5 611.9 647.1 614.4 651 615.4 C654.9 616.5 657.8 620.1 661.7 619.7 C665.6 619.3 669.9 614.7 674.5 613.3 C679.1 611.9 685.5 612.9 689.4 611.2 C693.3 609.4 695.8 606.9 697.9 602.6 C700.1 598.4 700.1 590.6 702.2 585.6 C704.3 580.6 707.9 576 710.7 572.8 C713.6 569.6 717.1 565.7 719.3 566.4 C721.4 567.1 720.7 574.6 723.5 577.1 C726.4 579.5 733.8 578.8 736.3 581.3 C738.8 583.8 740.2 587.4 738.4 592 C736.7 596.6 730.6 603.7 725.7 609 C720.7 614.4 713.9 619.7 708.6 624 C703.3 628.2 698.3 631.4 693.7 634.6 C689 637.8 684.8 640.3 680.9 643.2 C677 646 674.5 648.5 670.2 651.7 C665.9 654.9 660.3 658.4 655.3 662.3 C650.3 666.3 645 670.9 640.4 675.1 C635.7 679.4 631.8 683.7 627.6 687.9 C623.3 692.2 619 697.2 614.8 700.7 C610.5 704.3 605.9 705.7 602 709.3 C598.1 712.8 594.2 720.6 591.3 722 C588.5 723.5 585.8 722.8 584.9 717.8 C584 712.8 583.9 698.6 586 692.2 Z" fill="#000" filter="url(#sw)"/>
<path d="M602 645.3 C603.8 643.5 609.8 642.4 612.6 643.2 C615.5 643.9 619.8 647.4 619 649.6 C618.3 651.7 611.2 655.2 608.4 655.9 C605.5 656.7 603 655.6 602 653.8 C600.9 652 600.2 647.1 602 645.3 Z" fill="#ffffff"/>
<path d="M651 626.1 C653.2 624.3 658.8 621.8 659.6 624 C660.3 626.1 657.1 635.3 655.3 638.9 C653.5 642.4 650.3 646 648.9 645.3 C647.5 644.6 646.4 637.8 646.8 634.6 C647.1 631.4 648.9 627.9 651 626.1 Z" fill="#ffffff"/>
<path d="M672.3 628.2 C674.1 626.1 682.3 623.3 685.1 624 C688 624.7 690.1 630 689.4 632.5 C688.7 635 683.4 638.2 680.9 638.9 C678.4 639.6 675.9 638.5 674.5 636.8 C673.1 635 670.6 630.4 672.3 628.2 Z" fill="#ffffff"/>
<path d="M689.4 615.4 C690.8 612.9 698.6 608 700.1 609 C701.5 610.1 699.4 619.3 697.9 621.8 C696.5 624.3 693 625 691.5 624 C690.1 622.9 688 617.9 689.4 615.4 Z" fill="#ffffff"/>
<path d="M604.1 679.4 C605.9 674.1 613.4 665.2 616.9 660.2 C620.5 655.2 622.2 652.8 625.4 649.6 C628.6 646.4 632.9 644.6 636.1 641 C639.3 637.5 641.4 631.4 644.6 628.2 C647.8 625 652.1 622.2 655.3 621.8 C658.5 621.5 662.4 623.3 663.8 626.1 C665.2 628.9 665.2 635 663.8 638.9 C662.4 642.8 658.5 646 655.3 649.6 C652.1 653.1 648.2 656.7 644.6 660.2 C641.1 663.8 637.5 667 634 670.9 C630.4 674.8 626.9 680.8 623.3 683.7 C619.8 686.5 615.5 686.5 612.6 687.9 C609.8 689.4 607.7 693.6 606.2 692.2 C604.8 690.8 602.3 684.7 604.1 679.4 Z" fill="#46b41e"/>
<path d="M704.3 600.5 C704.7 597.7 708.2 595.9 710.7 596.2 C713.2 596.6 718.2 600.2 719.3 602.6 C720.3 605.1 718.9 609.4 717.1 611.2 C715.3 612.9 710.7 615.1 708.6 613.3 C706.5 611.5 704 603.4 704.3 600.5 Z" fill="#46b41e"/>
<path d="M744.8 570.7 C746.3 567.8 752.8 562.8 755.5 562.1 C758.2 561.4 761.2 563.9 760.8 566.4 C760.5 568.9 755.7 574.9 753.4 577.1 C751.1 579.2 748.4 580.3 747 579.2 C745.6 578.1 743.4 573.5 744.8 570.7 Z" fill="#55f055"/>
<path d="M650 600.5 C650.7 598.7 652.6 596.2 655.3 596.2 C658 596.2 664.5 599.1 665.9 600.5 C667.4 601.9 666.3 603.7 663.8 604.8 C661.3 605.8 653.3 607.6 651 606.9 C648.7 606.2 649.2 602.3 650 600.5 Z" fill="#55f055"/>
<path d="M599.9 557.9 C601.3 556.4 609.4 555.7 612.6 557.9 C615.8 560 619 568.2 619 570.7 C619 573.1 615.1 573.5 612.6 572.8 C610.2 572.1 606.2 568.9 604.1 566.4 C602 563.9 598.4 559.3 599.9 557.9 Z" fill="#55f055"/>
<path d="M580.7 698.6 C581.4 695.7 584.4 694.7 586 696.5 C587.6 698.2 590.1 705.7 590.3 709.3 C590.4 712.8 588.5 717.1 587.1 717.8 C585.6 718.5 582.8 716.7 581.7 713.5 C580.7 710.3 580 701.4 580.7 698.6 Z" fill="#55f055"/>
</g>
<g clip-path="url(#tG)">
<path d="M348.4 617.9 C369.7 617.9 421.6 614.7 437.9 617.9 C454.3 621.1 445 630.7 446.5 637.1 C447.9 643.5 444.3 652 446.5 656.2 C448.6 660.5 455.7 659.8 459.3 662.6 C462.8 665.5 464.9 669.8 467.8 673.3 C470.6 676.9 474.2 683.6 476.3 684 C478.4 684.3 478.4 676.5 480.6 675.4 C482.7 674.4 487.3 675.1 489.1 677.6 C490.9 680.1 489.1 687.9 491.2 690.4 C493.4 692.9 499.8 690.7 501.9 692.5 C504 694.3 504.7 698.9 504 701 C503.3 703.2 500.1 705.3 497.6 705.3 C495.1 705.3 491.9 701 489.1 701 C486.3 701 481.3 702.4 480.6 705.3 C479.9 708.1 485.2 715.8 484.8 718.1 C484.5 720.4 480.6 720.2 478.4 719.1 C476.3 718.1 475.2 712.6 472 711.7 C468.8 710.8 462.8 713.1 459.3 713.8 C455.7 714.5 453.6 717.4 450.7 715.9 C447.9 714.5 445.7 707.4 442.2 705.3 C438.6 703.2 433 705.3 429.4 703.2 C425.8 701 425.8 694.6 420.9 692.5 C415.9 690.4 405.6 690.4 399.6 690.4 C393.5 690.4 388.9 690.7 384.6 692.5 C380.4 694.3 376.5 697.1 374 701 C371.5 704.9 373.3 713.5 369.7 715.9 C366.1 718.4 359 716.7 352.6 715.9 C346.2 715.2 336.3 713.5 331.3 711.7 C326.3 709.9 326.3 706.4 322.8 705.3 C319.2 704.2 312.1 719.9 310 705.3 C307.9 690.7 303.6 632.4 310 617.9 C316.4 603.3 327.1 617.9 348.4 617.9 Z" fill="#ffc800"/>
<path d="M322.8 702.1 C326 698.6 335.2 699.5 342 699.3 C348.7 699.1 358.7 700 363.3 701 C367.9 702 368.6 702.4 369.7 705.3 C370.8 708.1 377.5 715.6 369.7 718.1 C361.9 720.6 330.6 722.9 322.8 720.2 C315 717.5 319.6 705.6 322.8 702.1 Z" fill="#ffffff"/>
<path d="M348.4 617.9 C369.3 617.9 420 614.7 435.8 617.9 C451.6 621.1 442 630.3 443.3 637.1 C444.5 643.8 444.2 652.3 443.3 658.4 C442.4 664.4 440.2 669 437.9 673.3 C435.6 677.6 432.2 681.5 429.4 684 C426.6 686.5 425.8 687.5 420.9 688.2 C415.9 688.9 405.6 687.9 399.6 688.2 C393.5 688.6 388.9 689.7 384.6 690.4 C380.4 691.1 379.3 691.8 374 692.5 C368.6 693.2 359 694.6 352.6 694.6 C346.2 694.6 339.9 694.3 335.6 692.5 C331.3 690.7 331.3 685.4 327.1 684 C322.8 682.5 312.8 695 310 684 C307.2 672.9 303.6 628.9 310 617.9 C316.4 606.9 327.4 617.9 348.4 617.9 Z" fill="#ffa000"/>
<path d="M446.5 658.4 C450.7 656.6 459.3 664.8 463.5 669 C467.8 673.3 471.3 679.7 472 684 C472.8 688.2 470.6 692.5 467.8 694.6 C464.9 696.8 459.3 697.5 455 696.8 C450.7 696 445 693.2 442.2 690.4 C439.4 687.5 437.2 685 437.9 679.7 C438.6 674.4 442.2 660.2 446.5 658.4 Z" fill="#ffa000"/>
<path d="M374 632.8 C377.5 629.6 388.2 627.1 395.3 626.4 C402.4 625.7 410.9 626 416.6 628.5 C422.3 631 428 636.3 429.4 641.3 C430.8 646.3 428.7 654.8 425.1 658.4 C421.6 661.9 413.1 660.9 408.1 662.6 C403.1 664.4 399.9 667.3 395.3 669 C390.7 670.8 385.7 672.6 380.4 673.3 C375 674 368.6 672.9 363.3 673.3 C358 673.7 351.9 675.8 348.4 675.4 C344.8 675.1 341.3 673.3 342 671.2 C342.7 669 349.1 665.1 352.6 662.6 C356.2 660.2 359.8 659.1 363.3 656.2 C366.9 653.4 372.2 649.5 374 645.6 C375.7 641.7 370.4 636 374 632.8 Z" fill="#ff7800"/>
<path d="M380.4 641.3 C382.5 638.5 392.1 637.1 395.3 639.2 C398.5 641.3 400.3 650.9 399.6 654.1 C398.8 657.3 393.9 658 391 658.4 C388.2 658.7 384.3 659.1 382.5 656.2 C380.7 653.4 378.2 644.2 380.4 641.3 Z" fill="#ff5000"/>
<path d="M426.2 664.8 C428 661.8 434.4 659.3 437.9 659.4 C441.5 659.6 446.3 662.5 447.5 665.8 C448.8 669.2 447.5 676.9 445.4 679.7 C443.3 682.5 437.8 683.3 434.7 682.9 C431.7 682.5 428.7 680.6 427.3 677.6 C425.8 674.5 424.4 667.8 426.2 664.8 Z" fill="#ff5000"/>
<path d="M430.5 667.3 C431.7 665.5 435.7 663.7 437.9 663.7 C440.2 663.7 443.3 665.2 443.9 667.3 C444.5 669.5 443.4 674.5 441.8 676.5 C440.1 678.5 436 679.5 434.1 679.3 C432.2 679 431.1 677 430.5 675 C429.9 673 429.2 669.2 430.5 667.3 Z" fill="#ff0000"/>
<path d="M448.6 681.8 C449.3 679.7 455.3 678.6 457.1 679.7 C458.9 680.8 460 686.1 459.3 688.2 C458.5 690.4 454.6 693.6 452.9 692.5 C451.1 691.4 447.9 684 448.6 681.8 Z" fill="#ff5000"/>
<path d="M410.2 666.9 C411.3 664.4 416.3 663.7 418.7 664.8 C421.2 665.8 424.8 670.5 425.1 673.3 C425.5 676.1 423 680.8 420.9 681.8 C418.7 682.9 414.1 682.2 412.3 679.7 C410.6 677.2 409.1 669.4 410.2 666.9 Z" fill="#ffffff"/>
<path d="M433.7 685 C435.1 683.9 442.2 683.3 444.3 684 C446.5 684.7 447.9 688.2 446.5 689.3 C445 690.4 437.9 691.5 435.8 690.8 C433.7 690.1 432.2 686.2 433.7 685 Z" fill="#55f055"/>
<path d="M456.1 703.6 C457.3 702.8 463 703.2 464.6 704.2 C466.2 705.2 466.9 708.7 465.7 709.6 C464.4 710.4 458.7 710.1 457.1 709.1 C455.5 708.1 454.8 704.4 456.1 703.6 Z" fill="#55f055"/>
<path d="M483.1 703.6 C484 702 489.2 702.5 490.2 704.2 C491.2 705.9 490 712.2 489.1 713.8 C488.2 715.4 485.8 715.5 484.8 713.8 C483.8 712.1 482.2 705.2 483.1 703.6 Z" fill="#55f055"/>
<path d="M329.2 679.7 C329.9 677.7 333.5 677.2 334.5 678.6 C335.6 680.1 336.3 686.3 335.6 688.2 C334.9 690.2 331.3 691.8 330.3 690.4 C329.2 688.9 328.5 681.7 329.2 679.7 Z" fill="#ff2800"/>
<path d="M497.6 772.5 C499.3 771.2 507.7 768.2 510 769.3 C512.3 770.3 513.2 777.6 511.5 778.8 C509.8 780.1 502.1 777.8 499.8 776.7 C497.5 775.7 495.9 773.7 497.6 772.5 Z" fill="#ffc800"/>
<path d="M497.6 767.1 C498.5 766.7 502.1 766.3 503 766.7 C503.9 767.1 503.8 768.8 503 769.3 C502.1 769.7 498.9 769.6 498.1 769.3 C497.2 768.9 496.8 767.5 497.6 767.1 Z" fill="#55f055"/>
<path d="M369.6 709.3 L373.8 698.6 L386.6 692.2 L401.5 689 L416.5 691.1 L422.9 694.3 L427.1 705 L422.9 718.8 L416.5 734.1 L405.8 743.7 L418.6 745.8 L410.1 752.2 L393 752.2 L382.3 750.1 L371.7 757.6 L369.6 742.6 L371.7 721.3 Z" fill="#ffffff"/>
</g>
<g clip-path="url(#tT)">
<path d="M521.5 811 C522 810.1 523.9 809.3 525 809.5 C526.1 809.7 527.8 811 528 812 C528.2 813 527 815 526 815.5 C525 816 522.8 815.8 522 815 C521.2 814.2 521 811.9 521.5 811 Z" fill="#ffc800"/>
<path d="M498 833 C498.6 831.5 501 831 502 831.5 C503 832 503.6 834.4 503.8 836 C504 837.6 503.9 840.2 503 841 C502.1 841.8 499.3 841.8 498.5 840.5 C497.7 839.2 497.4 834.5 498 833 Z" fill="#ffc800"/>
<path d="M487 848 C487.2 847.1 488.5 846.5 489 847 C489.5 847.5 490.1 850.1 489.8 851 C489.6 851.9 488 853 487.5 852.5 C487 852 486.8 848.9 487 848 Z" fill="#ffc800"/>
<path d="M475 876 C475.3 875 477.8 873.3 479 873 C480.2 872.7 481.7 873.2 482 874 C482.3 874.8 481.8 877.2 481 878 C480.2 878.8 478 879.3 477 879 C476 878.7 474.7 877 475 876 Z" fill="#ffc800"/>
<path d="M477 880 C477.6 879.4 479.7 879.3 480 880 C480.3 880.7 479.6 883.4 479 884 C478.4 884.6 476.8 884.2 476.5 883.5 C476.2 882.8 476.4 880.6 477 880 Z" fill="#ffc800"/>
<path d="M461.5 892 C461.8 891.6 463.2 891.2 463.5 891.5 C463.8 891.8 463.8 893.4 463.5 893.8 C463.2 894.2 461.8 894.1 461.5 893.8 C461.2 893.5 461.2 892.4 461.5 892 Z" fill="#ffc800"/>
<path d="M556 774 C556.3 773.7 557.6 773.3 558 773.5 C558.4 773.7 558.6 775 558.3 775.3 C558 775.6 556.4 775.7 556 775.5 C555.6 775.3 555.7 774.3 556 774 Z" fill="#55f055"/>
</g>
<g clip-path="url(#tS)">
<path d="M728 442 C729 440.3 733.7 439.5 736 440 C738.3 440.5 741.7 443.2 742 445 C742.3 446.8 740 450.2 738 451 C736 451.8 731.7 451.5 730 450 C728.3 448.5 727 443.7 728 442 Z" fill="#55f055"/>
<path d="M731 444 C731.7 443.1 734.7 442.2 736 442.5 C737.3 442.8 739.2 444.9 739 446 C738.8 447.1 736.2 448.7 735 449 C733.8 449.3 732.7 448.8 732 448 C731.3 447.2 730.3 444.9 731 444 Z" fill="#0a780a"/>
<path d="M747 445 L767 445 L767 447.4 L747 447.4 Z" fill="#ffc800"/>
<path d="M766 453 C767 451 772.5 450 776 450 C779.5 450 784.8 451 787 453 C789.2 455 789.8 460 789 462 C788.2 464 785.2 465 782 465 C778.8 465 772.7 464 770 462 C767.3 460 765 455 766 453 Z" fill="#55f055"/>
<path d="M776 456 C776.5 454.8 779.8 454.3 781 455 C782.2 455.7 783.5 458.8 783 460 C782.5 461.2 779.2 462.7 778 462 C776.8 461.3 775.5 457.2 776 456 Z" fill="#32a014"/>
<path d="M801 436 C801.3 433.7 805.5 431.6 808 430 C810.5 428.4 814.3 426 816 426.5 C817.7 427 818.2 430.4 818 433 C817.8 435.6 817 440.2 815 442 C813 443.8 808.3 445 806 444 C803.7 443 800.7 438.3 801 436 Z" fill="#55f055"/>
<path d="M811 433 C811.5 431.9 815 431 816 431.5 C817 432 817.5 434.9 817 436 C816.5 437.1 814 438.5 813 438 C812 437.5 810.5 434.1 811 433 Z" fill="#32a014"/>
<path d="M791 432 C791.7 431.2 795.2 430.5 796 431 C796.8 431.5 796.7 434.2 796 435 C795.3 435.8 792.8 436 792 435.5 C791.2 435 790.3 432.8 791 432 Z" fill="#55f055"/>
<path d="M720 461 C720.7 459.9 724.7 459 726 459.5 C727.3 460 728.7 462.9 728 464 C727.3 465.1 723.3 466.5 722 466 C720.7 465.5 719.3 462.1 720 461 Z" fill="#55f055"/>
<path d="M691 470 C691.8 469.1 695.8 468.3 697 469 C698.2 469.7 698.8 473.1 698 474 C697.2 474.9 693.2 475.2 692 474.5 C690.8 473.8 690.2 470.9 691 470 Z" fill="#55f055"/>
<path d="M708 477.5 L718 477.5 L718 479.5 L708 479.5 Z" fill="#55f055"/>
<path d="M645 462 L664 462 L664 464.6 L645 464.6 Z" fill="#55f055"/>
<path d="M686 491.5 L691 491.5 L691 494 L686 494 Z" fill="#55f055"/>
</g>
</g>
<path d="M214 151 L214 232 L190.6 232 L190.6 244 L190.6 331.4" fill="none" stroke="#000" stroke-width="2" stroke-linejoin="round" stroke-linecap="round"/>
<path d="M130 212.6 L190.6 244" fill="none" stroke="#000" stroke-width="2" stroke-linejoin="round" stroke-linecap="round"/>
<path d="M214 186.1 L360.5 186.1 L362.4 180.9 L365.2 180.9 L365.2 186.4 L404.4 186.1 L413.7 193 L422.1 191.7 L427.7 181.2 L438.9 179.4 L446.3 166.9 L451 168.2 L460.3 160.3" fill="none" stroke="#000" stroke-width="2" stroke-linejoin="round" stroke-linecap="round"/>
<path d="M458.5 151 L460.3 160.3 L465.9 168.7 L478 176.2 L491.1 184.6 L490.7 197.6 L498.6 207 L496.7 225.6 L498 237 L500.4 248 L506 262 L515 268.2 L521 272 L528.7 279.2 L536.7 292 L540 302 L543.1 314.4 L552.7 333.6 L563.9 343.1 L575.1 352.7 L587.9 359.1 L603.9 375.1 L616.6 391.1 L626.2 397.5 L633.1 397.2" fill="none" stroke="#000" stroke-width="2" stroke-linejoin="round" stroke-linecap="round"/>
<path d="M528.7 279.2 L520.7 288.8 L515 290 L504.2 293.7 L503.2 300.3 L493 300.3 L492 309.6 L490.2 326 L482.3 343.1 L480.7 365.5 L478 380 L475.9 394.3 L472.7 400.7 L466.3 403.9 L456.8 413.5 L449.3 420.5 L448.5 428.1 L445.9 432.4 L445 441.8 L444.2 446.1 L441.6 446.9 L437.4 443.5 L434.8 443.5 L432.3 446.1 L430.6 451.2 L430.1 460 L427.4 462.1 L425.8 465.3 L424.2 470.7 L423.7 476 L421 476 L421.6 469.6 L422.6 464.3 L421.6 460 L421.2 459.7" fill="none" stroke="#000" stroke-width="2" stroke-linejoin="round" stroke-linecap="round"/>
<path d="M480.7 365.5 L491.9 362.3 L511.1 352.7 L517.5 354.3 L527.1 359.1 L539.9 357.5 L549.5 355.9 L565.5 362.3 L578.3 368.7 L597.5 381.5 L610.3 394.3 L617.2 405.7" fill="none" stroke="#000" stroke-width="2" stroke-linejoin="round" stroke-linecap="round"/>
<path d="M617.2 405.7 L624.5 404.5 L630.7 405.7 L634.3 400.8 L633.1 397.2" fill="none" stroke="#000" stroke-width="2" stroke-linejoin="round" stroke-linecap="round"/>
<path d="M634.3 402.1 L639.2 407 L641.7 419.2 L631.9 425.4 L639.2 430.3" fill="none" stroke="#000" stroke-width="2" stroke-linejoin="round" stroke-linecap="round"/>
<path d="M617.2 405.7 L609.8 416.8 L603.7 425.4 L603.7 440.1 L614.7 440.1 L623.3 438.9 L630.7 440.1 L627 445 L624.5 451.1 L631.9 460.9 L639.2 473.2 L642.9 478.1 L656.4 486.7 L690 498.5 L722.6 510 L748.4 511.2 L678.5 581.1 L655.4 580.7 L649 581.1 L636.7 586.3 L631.9 590.9 L629.4 595.8 L614.7 598.2 L603.1 603.1 L588.2 603.1 L580.7 597.5 L562.1 601.3 L554.6 612.5 L528.5 612.5 L517.3 610.6 L494.9 595.7 L489.6 592.2 L470.4 592.2 L468.2 589 L465 585.8 L465 570.9 L459.7 569.9 L454.4 570.9 L453.3 568.8 L448 563.5 L445.8 556 L444 548.5 L440.8 542.1 L435.4 536.8 L430.1 532.5 L424.8 528.2 L422.6 524 L418.4 519.7 L410.9 516 L404.5 515.4 L399.7 513.3 L400.3 509.6 L404 504.8 L404.5 500 L414.1 499.4 L416.2 500.5 L423.7 500 L425.3 497.3 L424.8 470.7" fill="none" stroke="#000" stroke-width="2" stroke-linejoin="round" stroke-linecap="round"/>
<path d="M630.7 440.1 L639.2 430.3" fill="none" stroke="#000" stroke-width="2" stroke-linejoin="round" stroke-linecap="round"/>
<path d="M639.2 430.3 L649 441.3 L658.9 451.1 L671.1 456 L683.4 452.3 L695.6 446.2 L710.3 447.4 L722.6 445 L734.9 438.9 L747.1 438.9 L759.4 435.2 L776.6 433.9 L791.3 430.3 L801.1 426.6 L808.4 419.2 L821.9 422.9 L820.7 436.4 L818.2 453.6 L812.1 463.4 L810.9 478.1 L796.2 502.6 L786 528.5 L774.8 547.2 L769.2 562.1 L748.7 580.7 L733 600 L718.8 618.1 L689 644.2 L674 653.5 L647.9 674 L629.3 692.7 L614.3 707.6 L599.4 730 L591.9 737.5 L578.9 752.4 L569.6 752.4 L567.7 767.3 L556 786 L544.6 803.5 L540.7 813.7 L533.1 835.5 L553.5 859.8 L547.1 870 L547.1 882.8 L549.7 900.7 L558.6 923.8 L574 936.6 L573.5 975" fill="none" stroke="#000" stroke-width="2" stroke-linejoin="round" stroke-linecap="round"/>
<path d="M603.1 603.1 L586.3 629.3 L586.3 715.1 L599.4 733.7" fill="none" stroke="#000" stroke-width="2" stroke-linejoin="round" stroke-linecap="round"/>
<path d="M544.6 803.5 L507.5 776.6 L508.8 774.1 L508 765.4 L497.2 760 L480 749.8 L425 718.8 L346.1 718.8 L339.7 720.3" fill="none" stroke="#000" stroke-width="2" stroke-linejoin="round" stroke-linecap="round"/>
<path d="M433 588.8 L468.2 588.8" fill="none" stroke="#000" stroke-width="2" stroke-linejoin="round" stroke-linecap="round"/>
<path d="M433 588.5 L434.1 585.8 L440.5 583.7 L450.1 580 L454.4 580 L457.6 582.1 L456.5 586.9 L459.7 588 L465 588" fill="none" stroke="#000" stroke-width="2" stroke-linejoin="round" stroke-linecap="round"/>
<path d="M433 588.5 L424.5 596.5 L410.7 608.8 L404.3 607.7 L400 606.1" fill="none" stroke="#000" stroke-width="2" stroke-linejoin="round" stroke-linecap="round"/>
<path d="M424.5 596.5 L425.6 604 L432 609.3 L434.1 612.5 L433 616.8 L436.2 623.2 L441.6 629.6 L443.7 640 L445 655" fill="none" stroke="#000" stroke-width="2" stroke-linejoin="round" stroke-linecap="round"/>
<path d="M350.4 612.4 L354.6 609.2 L358.9 607.6 L363.2 609.2 L366.4 610.3 L371.7 608.1 L378 611 L382.3 610.1 L388.7 606.9 L399.4 605.8 L404.3 607.7 L410.7 608.8" fill="none" stroke="#000" stroke-width="2" stroke-linejoin="round" stroke-linecap="round"/>
<path d="M271.8 580 L277.4 582.5 L280 589.9 L286.7 593 L292.8 594.5 L301.3 590.5 L312 593 L316.2 591.1 L320.5 588 L324.8 590 L325.8 594.3 L331.2 598.5 L335.4 603.9 L344 607.1 L344 611.3 L350.4 612.4" fill="none" stroke="#000" stroke-width="2" stroke-linejoin="round" stroke-linecap="round"/>
<path d="M350.4 612.4 L349.3 619.9 L348.2 629.4 L347.2 638 L352.5 640.1 L356.8 642.2 L360 645.4 L354.6 651.8 L346.1 660.4 L342.9 664.6 L335.4 668.9 L329 675.3 L328 681.7 L325.8 690 L322.6 705 L320.5 717.8 L320.5 725.6 L312 732 L308.8 738.4 L312 744.8 L305.6 751.2 L304.5 756.5 L307.7 759.7" fill="none" stroke="#000" stroke-width="2" stroke-linejoin="round" stroke-linecap="round"/>
<path d="M445 655 L444.2 660.2 L437.8 668.7 L431.4 677.3 L425 688 L421.8 694.3" fill="none" stroke="#000" stroke-width="2" stroke-linejoin="round" stroke-linecap="round"/>
<path d="M369.6 709.3 L373.8 698.6 L386.6 692.2 L401.5 689 L416.5 691.1 L422.9 694.3 L427.1 705 L422.9 718.8 L416.5 734.1 L405.8 743.7 L418.6 745.8 L410.1 752.2 L393 752.2 L382.3 750.1 L371.7 757.6 L369.6 742.6 L371.7 721.3 L369.6 709.3" fill="none" stroke="#000" stroke-width="2" stroke-linejoin="round" stroke-linecap="round"/>
<path d="M320.5 725.6 L329 727.7 L337.6 721.3 L339.7 720.3 L341.8 720.3 L346.1 729.9 L348.2 738.4 L350.4 743.7 L348.2 750.1 L340.8 751.2 L340.8 757.6 L344 761.8 L350.4 768.2 L344 776.8 L337.6 781 L335.4 789.6 L329 796 L322.6 798.1 L318.4 798.1" fill="none" stroke="#000" stroke-width="2" stroke-linejoin="round" stroke-linecap="round"/>
<path d="M307.7 759.7 L311 756.5 L315.2 758.6 L326.9 760.8 L329 751.2 L340.8 751.2" fill="none" stroke="#000" stroke-width="2" stroke-linejoin="round" stroke-linecap="round"/>
<path d="M307.7 759.7 L312 772.5 L309.9 787.4 L312 798.1 L308.8 810.9 L313 823.7 L312 834.3 L318.4 845 L326.9 855.7 L336.5 866.3 L340.8 877 L344 885.5 L343.2 895.2 L355.2 897.6" fill="none" stroke="#000" stroke-width="2" stroke-linejoin="round" stroke-linecap="round"/>
<path d="M314.1 774.6 L316.2 789.6 L317.3 800.2 L315.2 810.9 L318.4 819.4 L320.5 832.2 L325.8 840.7 L334.3 849.3 L341.8 862.1 L346.1 874.9 L350.4 885.5 L355.2 897.6" fill="none" stroke="#000" stroke-width="2" stroke-linejoin="round" stroke-linecap="round"/>
<path d="M318.4 798.1 L324 810 L329 828 L325.8 838.6 L344 853.5 L344 862.1 L350.4 874.9 L355.2 897.6" fill="none" stroke="#000" stroke-width="2" stroke-linejoin="round" stroke-linecap="round"/>
<path d="M343.2 886 L304 890.1 L305.7 896.9 L293.8 908.9 L297.2 920.8 L295.5 931.1 L297.2 951.5 L293.8 965.2 L295.5 975" fill="none" stroke="#000" stroke-width="2" stroke-linejoin="round" stroke-linecap="round"/>
<path d="M355.2 897.6 L368.8 902.1 L382.5 907.2 L399.5 914 L409.8 917.4 L423 916.1" fill="none" stroke="#000" stroke-width="2" stroke-linejoin="round" stroke-linecap="round"/>
<path d="M409.8 917.4 L406.4 931.1 L413.2 937.9 L408.1 951.5 L406.4 975" fill="none" stroke="#000" stroke-width="2" stroke-linejoin="round" stroke-linecap="round"/>
<path d="M423 916.1 L430.2 920.8 L437.1 934.5 L438.8 948.1 L443.9 958.4 L449 965.2 L452 975" fill="none" stroke="#000" stroke-width="2" stroke-linejoin="round" stroke-linecap="round"/>
<path d="M423 916.1 L433.3 969.8 L434 975" fill="none" stroke="#000" stroke-width="2" stroke-linejoin="round" stroke-linecap="round"/>
<path d="M574 936.6 L558.6 946.8 L548.4 950.6 L543.3 954.5 L530.5 957 L517.7 955.8 L510 959.6 L502.4 964.7 L494.7 963.4 L487 963.4 L479.3 964.7 L466.5 959.6 L458.9 963.4 L447.3 963.4 L438.4 954.5 L435.8 939.1 L433.3 926.3 L423 916.1" fill="none" stroke="#000" stroke-width="2" stroke-linejoin="round" stroke-linecap="round"/>
<path d="M130 864.5 L140.2 866.2 L141.9 873.1 L140.2 890.1 L140.2 910.6 L147.1 924.2 L148.8 937.9 L150.5 955 L164.1 951.5 L189.7 949.8 L191.4 946.4 L193.1 958.4 L199.9 958.4 L201.6 955 L220.4 955 L222.1 965.2 L232.4 968.6 L249.4 972 L261.4 972 L261.4 963.5 L266.5 968.6 L273.3 975" fill="none" stroke="#000" stroke-width="2" stroke-linejoin="round" stroke-linecap="round"/>
<path d="M189.7 949.8 L190 975" fill="none" stroke="#000" stroke-width="2" stroke-linejoin="round" stroke-linecap="round"/>
<path d="M130 459 L136.5 456 L137.5 448 L149 441 L158 441 L165.4 442" fill="none" stroke="#000" stroke-width="2" stroke-linejoin="round" stroke-linecap="round"/>
<path d="M190.6 331.4 L182.2 330.1 L169.2 332 L165.4 335.7 L166.4 342.2 L163.6 346 L160.8 351.6 L154.3 356.2 L153.3 362.8 L156.1 366.5 L150.5 372.1 L146.8 377.7 L148.7 385.1 L143.1 391.7 L139.3 398.2 L144.9 401.9 L150.5 402.9 L154.3 405.7 L155.2 413.1 L158 418.7 L158 429 L165.4 435.5 L165.4 442" fill="none" stroke="#000" stroke-width="2" stroke-linejoin="round" stroke-linecap="round"/>
<path d="M165.4 442 L169.2 447.5 L176.6 454.9 L182.2 464.3 L184.1 473.6 L181.3 477.3 L177.6 485.7 L179.4 488.5 L178.9 494.1 L195.3 494.1 L194.4 501.6 L200.9 504.4 L208.4 505.3 L212.1 510.9 L219.6 514.6 L219.6 520.2 L227 527.7 L236.3 533.3 L243.8 540.7 L245.7 550.1 L249.4 553.8 L260.6 561.3 L266.2 566.9 L268.1 574.3 L271.8 580" fill="none" stroke="#000" stroke-width="2" stroke-linejoin="round" stroke-linecap="round"/>
<path d="M130 595.8 L141.2 596.7 L154.3 599.5 L158 589.3 L165.4 583.7 L174.8 588.3 L186 583.7 L200.9 578.1 L206.5 581.8 L219.6 578.1 L223.3 572.5 L232.6 574.3 L240.1 574.3 L249.4 578.1 L260.6 575.3 L268.1 576.2 L271.8 580" fill="none" stroke="#000" stroke-width="2" stroke-linejoin="round" stroke-linecap="round"/>
<path d="M195.3 494.1 L206.5 477.3 L208.4 468 L215.8 457.7 L219.6 456 L233.5 454.9 L234.5 458.7 L241.9 468 L247.5 474.5 L260.6 473.6 L281.1 473.6 L283 479.2 L301.6 479.2 L305 472 L319 469.7 L319 463.1 L329.3 457.5 L348.8 469.7 L359.1 469.7 L376.8 449.1 L387.9 440.1 L385.8 437.5 L385.8 423.9 L381.9 420 L392.6 420 L392.6 411.9 L407.1 413.2 L404.5 420.5 L402.8 427.3 L405 435.8 L406.7 440.9 L406.7 446.9 L410.9 449.5 L414.3 452.9 L418.6 457.1 L421.2 459.7 L421.6 460" fill="none" stroke="#000" stroke-width="2" stroke-linejoin="round" stroke-linecap="round"/>
<path d="M530.4 151 L537.8 166 L540.4 180.9 L541.6 195.8 L545.3 212.6 L554.6 225.6 L569.6 230 L578.9 236.8 L588.2 255.5 L600 278 L612.3 289 L620.8 301.3 L625.7 316 L624.5 333.2 L629.4 352.8 L636.8 374.9 L636.8 387.1 L644.1 400.6 L653.9 401.8 L673.6 398.2 L688.3 394.5 L694.4 387.1 L715.3 388.4 L727.5 387.1 L744.7 373.6 L756.9 373.6 L769.2 368.7 L776.6 360.2 L788.8 352.8 L806 347.9 L830 340.5" fill="none" stroke="#000" stroke-width="2" stroke-linejoin="round" stroke-linecap="round"/>
<path d="M625.7 316 L636.8 311.1 L638 296.4 L641.7 290.3 L653.9 294 L666.2 292.7 L709.1 309.9 L709.1 333.2 L768 273.1 L830 258.4" fill="none" stroke="#000" stroke-width="2" stroke-linejoin="round" stroke-linecap="round"/>
</g>
<rect x="130" y="151.5" width="700" height="821.0" fill="none" stroke="#000" stroke-width="2"/>
<path d="M144.2 972.5 V986.5 M190.7 972.5 V986.5 M237.1 972.5 V986.5 M283.6 972.5 V986.5 M330 972.5 V986.5 M376.5 972.5 V986.5 M423 972.5 V986.5 M469.4 972.5 V986.5 M515.9 972.5 V986.5 M562.3 972.5 V986.5 M608.8 972.5 V986.5 M655.3 972.5 V986.5 M701.7 972.5 V986.5 M748.2 972.5 V986.5 M794.6 972.5 V986.5 M130 232.4 H116 M130 348.1 H116 M130 463.9 H116 M130 579.6 H116 M130 695.4 H116 M130 811.1 H116 M130 926.9 H116" stroke="#000" stroke-width="2" fill="none"/>
<text y="1009" font-family="Liberation Sans, Arial, sans-serif" font-size="20.2" fill="#000"><tspan x="139.8" text-anchor="end">22</tspan></text>
<text y="1009" font-family="Liberation Sans, Arial, sans-serif" font-size="20.2" fill="#000"><tspan x="144.5">°</tspan><tspan x="155.1">E</tspan></text>
<text y="1009" font-family="Liberation Sans, Arial, sans-serif" font-size="20.2" fill="#000"><tspan x="232.7" text-anchor="end">26</tspan></text>
<text y="1009" font-family="Liberation Sans, Arial, sans-serif" font-size="20.2" fill="#000"><tspan x="237.4">°</tspan><tspan x="248">E</tspan></text>
<text y="1009" font-family="Liberation Sans, Arial, sans-serif" font-size="20.2" fill="#000"><tspan x="325.6" text-anchor="end">30</tspan></text>
<text y="1009" font-family="Liberation Sans, Arial, sans-serif" font-size="20.2" fill="#000"><tspan x="330.3">°</tspan><tspan x="340.9">E</tspan></text>
<text y="1009" font-family="Liberation Sans, Arial, sans-serif" font-size="20.2" fill="#000"><tspan x="418.6" text-anchor="end">34</tspan></text>
<text y="1009" font-family="Liberation Sans, Arial, sans-serif" font-size="20.2" fill="#000"><tspan x="423.3">°</tspan><tspan x="433.9">E</tspan></text>
<text y="1009" font-family="Liberation Sans, Arial, sans-serif" font-size="20.2" fill="#000"><tspan x="511.5" text-anchor="end">38</tspan></text>
<text y="1009" font-family="Liberation Sans, Arial, sans-serif" font-size="20.2" fill="#000"><tspan x="516.2">°</tspan><tspan x="526.8">E</tspan></text>
<text y="1009" font-family="Liberation Sans, Arial, sans-serif" font-size="20.2" fill="#000"><tspan x="604.4" text-anchor="end">42</tspan></text>
<text y="1009" font-family="Liberation Sans, Arial, sans-serif" font-size="20.2" fill="#000"><tspan x="609.1">°</tspan><tspan x="619.7">E</tspan></text>
<text y="1009" font-family="Liberation Sans, Arial, sans-serif" font-size="20.2" fill="#000"><tspan x="697.3" text-anchor="end">46</tspan></text>
<text y="1009" font-family="Liberation Sans, Arial, sans-serif" font-size="20.2" fill="#000"><tspan x="702">°</tspan><tspan x="712.6">E</tspan></text>
<text y="1009" font-family="Liberation Sans, Arial, sans-serif" font-size="20.2" fill="#000"><tspan x="790.2" text-anchor="end">50</tspan></text>
<text y="1009" font-family="Liberation Sans, Arial, sans-serif" font-size="20.2" fill="#000"><tspan x="794.9">°</tspan><tspan x="805.5">E</tspan></text>
<text y="239.4" font-family="Liberation Sans, Arial, sans-serif" font-size="20.2" fill="#000"><tspan x="79.4" text-anchor="end">20</tspan></text>
<text y="239.4" font-family="Liberation Sans, Arial, sans-serif" font-size="20.2" fill="#000"><tspan x="82.6">°</tspan><tspan x="92">N</tspan></text>
<text y="470.9" font-family="Liberation Sans, Arial, sans-serif" font-size="20.2" fill="#000"><tspan x="79.4" text-anchor="end">10</tspan></text>
<text y="470.9" font-family="Liberation Sans, Arial, sans-serif" font-size="20.2" fill="#000"><tspan x="82.6">°</tspan><tspan x="92">N</tspan></text>
<text y="702.4" font-family="Liberation Sans, Arial, sans-serif" font-size="20.2" fill="#000"><tspan x="94" text-anchor="end">0</tspan></text>
<text y="702.4" font-family="Liberation Sans, Arial, sans-serif" font-size="20.2" fill="#000"><tspan x="97.4">°</tspan></text>
<text y="933.9" font-family="Liberation Sans, Arial, sans-serif" font-size="20.2" fill="#000"><tspan x="79.4" text-anchor="end">10</tspan></text>
<text y="933.9" font-family="Liberation Sans, Arial, sans-serif" font-size="20.2" fill="#000"><tspan x="82.6">°</tspan><tspan x="92">S</tspan></text>
<path d="M846 209 L863.5 149 L881 209 Z" fill="#005000" stroke="#000" stroke-width="1.5" stroke-linejoin="round"/>
<rect x="846" y="209" width="35" height="60.5" fill="#0a780a" stroke="#000" stroke-width="1.5"/>
<rect x="846" y="269.5" width="35" height="60.5" fill="#1e8c0a" stroke="#000" stroke-width="1.5"/>
<rect x="846" y="330" width="35" height="60.5" fill="#32a014" stroke="#000" stroke-width="1.5"/>
<rect x="846" y="390.5" width="35" height="60.5" fill="#46b41e" stroke="#000" stroke-width="1.5"/>
<rect x="846" y="451" width="35" height="60.3" fill="#55f055" stroke="#000" stroke-width="1.5"/>
<rect x="846" y="511.3" width="35" height="60.3" fill="#fff" stroke="#000" stroke-width="1.5"/>
<rect x="846" y="571.6" width="35" height="60.6" fill="#fff" stroke="#000" stroke-width="1.5"/>
<rect x="846" y="632.2" width="35" height="60.4" fill="#ffc800" stroke="#000" stroke-width="1.5"/>
<rect x="846" y="692.6" width="35" height="60.4" fill="#ffa000" stroke="#000" stroke-width="1.5"/>
<rect x="846" y="753" width="35" height="60.4" fill="#ff7800" stroke="#000" stroke-width="1.5"/>
<rect x="846" y="813.4" width="35" height="60.4" fill="#ff5000" stroke="#000" stroke-width="1.5"/>
<rect x="846" y="873.8" width="35" height="60.5" fill="#ff2800" stroke="#000" stroke-width="1.5"/>
<path d="M846 934.3 L863.5 994.5 L881 934.3 Z" fill="#ff0000" stroke="#000" stroke-width="1.5" stroke-linejoin="round"/>
<text transform="translate(935.2 216.8) scale(1.13 1)" x="0" y="0" text-anchor="end" font-family="Liberation Sans, Arial, sans-serif" font-size="23" fill="#000">60</text>
<text transform="translate(935.2 277.3) scale(1.13 1)" x="0" y="0" text-anchor="end" font-family="Liberation Sans, Arial, sans-serif" font-size="23" fill="#000">50</text>
<text transform="translate(935.2 337.8) scale(1.13 1)" x="0" y="0" text-anchor="end" font-family="Liberation Sans, Arial, sans-serif" font-size="23" fill="#000">40</text>
<text transform="translate(935.2 398.3) scale(1.13 1)" x="0" y="0" text-anchor="end" font-family="Liberation Sans, Arial, sans-serif" font-size="23" fill="#000">30</text>
<text transform="translate(935.2 458.8) scale(1.13 1)" x="0" y="0" text-anchor="end" font-family="Liberation Sans, Arial, sans-serif" font-size="23" fill="#000">20</text>
<text transform="translate(935.2 519.1) scale(1.13 1)" x="0" y="0" text-anchor="end" font-family="Liberation Sans, Arial, sans-serif" font-size="23" fill="#000">10</text>
<text transform="translate(935.2 579.4) scale(1.13 1)" x="0" y="0" text-anchor="end" font-family="Liberation Sans, Arial, sans-serif" font-size="23" fill="#000">0</text>
<text transform="translate(935.2 640) scale(1.13 1)" x="0" y="0" text-anchor="end" font-family="Liberation Sans, Arial, sans-serif" font-size="23" fill="#000">-10</text>
<text transform="translate(935.2 700.4) scale(1.13 1)" x="0" y="0" text-anchor="end" font-family="Liberation Sans, Arial, sans-serif" font-size="23" fill="#000">-20</text>
<text transform="translate(935.2 760.8) scale(1.13 1)" x="0" y="0" text-anchor="end" font-family="Liberation Sans, Arial, sans-serif" font-size="23" fill="#000">-30</text>
<text transform="translate(935.2 821.2) scale(1.13 1)" x="0" y="0" text-anchor="end" font-family="Liberation Sans, Arial, sans-serif" font-size="23" fill="#000">-40</text>
<text transform="translate(935.2 881.6) scale(1.13 1)" x="0" y="0" text-anchor="end" font-family="Liberation Sans, Arial, sans-serif" font-size="23" fill="#000">-50</text>
<text transform="translate(935.2 942.1) scale(1.13 1)" x="0" y="0" text-anchor="end" font-family="Liberation Sans, Arial, sans-serif" font-size="23" fill="#000">-60</text>
<g>
<circle cx="784.7" cy="192.5" r="35.6" fill="none" stroke="#1a8a42" stroke-width="0.7" opacity="0.85"/>
<circle cx="784.7" cy="192.5" r="34.2" fill="none" stroke="#1a8a42" stroke-width="0.5" opacity="0.7"/>
<circle cx="784.7" cy="192.5" r="28.6" fill="none" stroke="#1a8a42" stroke-width="0.6" opacity="0.85"/>
<circle cx="752.3" cy="193.4" r="0.9" fill="#1a8a42"/><circle cx="817" cy="193.4" r="0.9" fill="#1a8a42"/>
<defs><path id="rtop" d="M 753.90 188.17 A 31.10 31.10 0 0 1 815.50 188.17"/><path id="rbot" d="M 752.32 197.05 A 32.70 32.70 0 0 0 817.08 197.05"/></defs>
<text font-family="Liberation Sans, Arial, sans-serif" font-size="3.6" font-weight="bold" fill="#1a8a42" opacity="0.8"><textPath href="#rtop" startOffset="50%" text-anchor="middle">INTERGOVERNMENTAL AUTHORITY ON DEVELOPMENT</textPath></text>
<text font-family="Liberation Sans, Arial, sans-serif" font-size="3.4" font-weight="bold" fill="#1a8a42" opacity="0.8"><textPath href="#rbot" startOffset="50%" text-anchor="middle">AUTORITE INTERGOUVERNEMENTALE POUR LE DEVELOPPEMENT</textPath></text>
<text x="785.5" y="178.5" text-anchor="middle" font-family="Liberation Sans, Arial, sans-serif" font-weight="bold" font-size="11.3" textLength="27.3" lengthAdjust="spacingAndGlyphs" fill="#1a8a42">IGAD</text>
<path d="M769.0 187.2 L769.5 185.5 L772.1 183.9 L774.0 181.1 L777.5 180.6 L781.1 180.5 L781.6 182.2 L785.6 183.0 L787.9 182.7 L791.0 182.9 L792.0 184.3 L793.3 186.8 L794.2 189.3 L796.0 191.0 L799.6 191.0 L799.6 191.8 L797.8 193.9 L795.5 196.5 L794.6 200.2 L794.6 202.3 L792.4 205.3 L791.0 208.2 L788.8 210.3 L785.6 210.7 L784.8 209.1 L783.4 207.0 L782.0 203.2 L782.5 199.8 L780.7 196.5 L780.7 194.4 L778.9 193.7 L775.8 193.9 L773.0 194.2 L770.8 192.7 L769.0 190.2 Z" fill="#1a8a42"/>
<path d="M786.5 186.8 L787.9 185.5 L792.0 184.7 L793.3 186.8 L794.2 189.3 L796.0 191.0 L799.6 191.0 L799.6 191.8 L797.8 193.9 L795.5 196.5 L794.6 197.3 L792.0 196.9 L790.1 196.0 L789.2 193.9 L787.5 191.8 L786.5 189.7 Z" fill="#f0b445"/>
<path d="M768.5 183.4 h5.0" stroke="#fff" stroke-width="0.5"/>
<path d="M768.5 185.5 h5.0" stroke="#fff" stroke-width="0.5"/>
<path d="M768.5 187.6 h5.0" stroke="#fff" stroke-width="0.5"/>
<path d="M768.5 189.7 h5.0" stroke="#fff" stroke-width="0.5"/>
<path d="M768.5 191.8 h5.0" stroke="#fff" stroke-width="0.5"/>
<path d="M781.1 200.2 h5.0" stroke="#fff" stroke-width="0.5"/>
<path d="M781.1 202.3 h5.0" stroke="#fff" stroke-width="0.5"/>
<path d="M781.1 204.4 h5.0" stroke="#fff" stroke-width="0.5"/>
<path d="M781.1 206.5 h5.0" stroke="#fff" stroke-width="0.5"/>
<path d="M766.8 184.7 h2.5" stroke="#f0b445" stroke-width="0.8"/>
<path d="M766.8 188.5 h2.5" stroke="#f0b445" stroke-width="0.8"/>
<path d="M766.8 191.0 h2.5" stroke="#f0b445" stroke-width="0.8"/>
<path d="M778.9 199.4 h2.5" stroke="#f0b445" stroke-width="0.8"/>
<path d="M778.9 203.6 h2.5" stroke="#f0b445" stroke-width="0.8"/>
<path d="M778.9 207.8 h2.5" stroke="#f0b445" stroke-width="0.8"/>
<path d="M764.16 176.60 L764.77 180.05 L768.13 179.08" fill="none" stroke="#1a8a42" stroke-width="1.6"/>
<path d="M801.27 179.08 L804.63 180.05 L805.24 176.60" fill="none" stroke="#1a8a42" stroke-width="1.6"/>
<path d="M761.02 181.84 L762.41 185.04 L765.46 183.32" fill="none" stroke="#1a8a42" stroke-width="1.6"/>
<path d="M803.94 183.32 L806.99 185.04 L808.38 181.84" fill="none" stroke="#1a8a42" stroke-width="1.6"/>
<path d="M759.18 187.66 L761.29 190.45 L763.85 188.07" fill="none" stroke="#1a8a42" stroke-width="1.6"/>
<path d="M805.55 188.07 L808.11 190.45 L810.22 187.66" fill="none" stroke="#1a8a42" stroke-width="1.6"/>
<path d="M758.76 193.75 L761.46 195.97 L763.39 193.06" fill="none" stroke="#1a8a42" stroke-width="1.6"/>
<path d="M806.01 193.06 L807.94 195.97 L810.64 193.75" fill="none" stroke="#1a8a42" stroke-width="1.6"/>
<path d="M759.77 199.77 L762.91 201.30 L764.11 198.02" fill="none" stroke="#1a8a42" stroke-width="1.6"/>
<path d="M805.29 198.02 L806.49 201.30 L809.63 199.77" fill="none" stroke="#1a8a42" stroke-width="1.6"/>
<path d="M762.15 205.39 L765.57 206.15 L765.96 202.67" fill="none" stroke="#1a8a42" stroke-width="1.6"/>
<path d="M803.44 202.67 L803.83 206.15 L807.25 205.39" fill="none" stroke="#1a8a42" stroke-width="1.6"/>
<path d="M765.79 210.30 L769.28 210.24 L768.86 206.76" fill="none" stroke="#1a8a42" stroke-width="1.6"/>
<path d="M800.54 206.76 L800.12 210.24 L803.61 210.30" fill="none" stroke="#1a8a42" stroke-width="1.6"/>
<path d="M770.46 214.22 L773.85 213.34 L772.62 210.07" fill="none" stroke="#1a8a42" stroke-width="1.6"/>
<path d="M796.78 210.07 L795.55 213.34 L798.94 214.22" fill="none" stroke="#1a8a42" stroke-width="1.6"/>
<path d="M779 215 L790 219 M790 215 L779 219" stroke="#1a8a42" stroke-width="0.5" opacity="0.7"/>
<text x="784.7" y="240" text-anchor="middle" font-family="Liberation Sans, Arial, sans-serif" font-weight="bold" font-size="10.8" textLength="32.7" lengthAdjust="spacingAndGlyphs" fill="#1a8a42">ICPAC</text>
</g>
</svg></body></html>
